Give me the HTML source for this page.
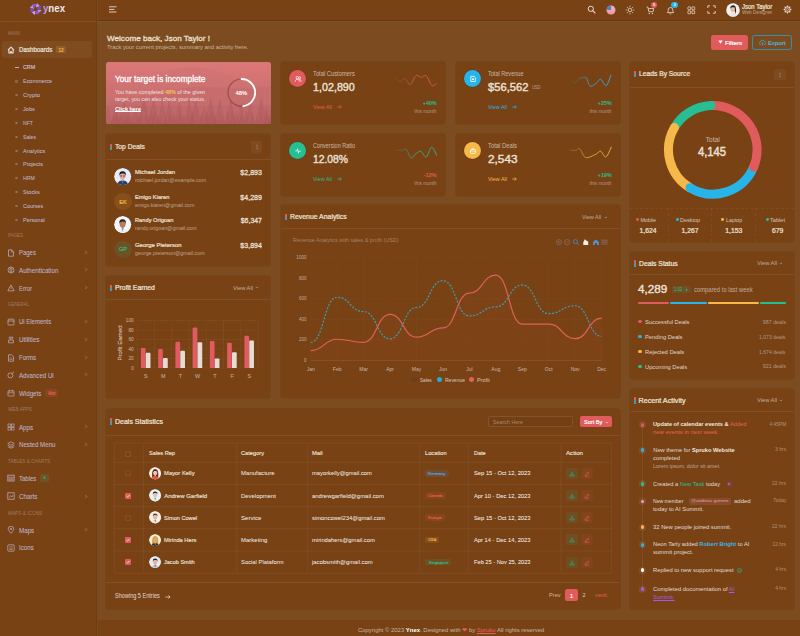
<!DOCTYPE html><html><head><meta charset="utf-8"><style>
html,body{margin:0;padding:0;}
body{width:800px;height:636px;overflow:hidden;position:relative;background:#7c4c20;font-family:"Liberation Sans",sans-serif;}
.t{position:absolute;white-space:nowrap;line-height:1;}
.b{position:absolute;}
</style></head><body>
<div class="b" style="left:0px;top:0px;width:800px;height:21px;background:#784215;"></div>
<div class="b" style="left:0px;top:20.4px;width:800px;height:0.8px;background:rgba(60,30,5,0.3);"></div>
<div class="b" style="left:0px;top:21.2px;width:800px;height:0.8px;background:rgba(255,255,255,0.035);"></div>
<div class="b" style="left:0px;top:0px;width:97.5px;height:636px;background:#784215;"></div>
<div class="b" style="left:96.4px;top:0px;width:0.8px;height:636px;background:rgba(60,30,5,0.16);"></div>
<div class="b" style="left:97.2px;top:0px;width:0.8px;height:636px;background:rgba(255,255,255,0.045);"></div>
<div class="b" style="left:98.3px;top:620px;width:702px;height:16px;background:#784215;"></div>
<div class="b" style="left:281.3px;top:62.2px;width:163.4px;height:61.6px;background:#784215;border-radius:2.5px;box-shadow:0 0 0 0.5px rgba(60,30,5,0.22);"></div>
<div class="b" style="left:456.3px;top:62.2px;width:163.4px;height:61.6px;background:#784215;border-radius:2.5px;box-shadow:0 0 0 0.5px rgba(60,30,5,0.22);"></div>
<div class="b" style="left:281.3px;top:134.2px;width:163.4px;height:61.6px;background:#784215;border-radius:2.5px;box-shadow:0 0 0 0.5px rgba(60,30,5,0.22);"></div>
<div class="b" style="left:456.3px;top:134.2px;width:163.4px;height:61.6px;background:#784215;border-radius:2.5px;box-shadow:0 0 0 0.5px rgba(60,30,5,0.22);"></div>
<div class="b" style="left:630.3px;top:62.2px;width:163.4px;height:179.6px;background:#784215;border-radius:2.5px;box-shadow:0 0 0 0.5px rgba(60,30,5,0.22);"></div>
<div class="b" style="left:106.3px;top:134.2px;width:163.9px;height:131.6px;background:#784215;border-radius:2.5px;box-shadow:0 0 0 0.5px rgba(60,30,5,0.22);"></div>
<div class="b" style="left:106.3px;top:276.2px;width:163.9px;height:121.6px;background:#784215;border-radius:2.5px;box-shadow:0 0 0 0.5px rgba(60,30,5,0.22);"></div>
<div class="b" style="left:281.3px;top:205.2px;width:338.4px;height:192.6px;background:#784215;border-radius:2.5px;box-shadow:0 0 0 0.5px rgba(60,30,5,0.22);"></div>
<div class="b" style="left:630.3px;top:252.2px;width:163.4px;height:126.6px;background:#784215;border-radius:2.5px;box-shadow:0 0 0 0.5px rgba(60,30,5,0.22);"></div>
<div class="b" style="left:630.3px;top:389.2px;width:163.4px;height:219.6px;background:#784215;border-radius:2.5px;box-shadow:0 0 0 0.5px rgba(60,30,5,0.22);"></div>
<div class="b" style="left:106.3px;top:409.2px;width:513.4px;height:199.6px;background:#784215;border-radius:2.5px;box-shadow:0 0 0 0.5px rgba(60,30,5,0.22);"></div>
<div class="b" style="left:0px;top:21.2px;width:96.4px;height:0.8px;background:rgba(255,255,255,0.075);"></div>
<svg class="b" style="left:28px;top:2px;" width="16" height="15" viewBox="0 0 16 15"><polygon points="9.28,7.38 13.81,8.18 10.71,11.09" fill="#b692f6"/><polygon points="8.62,8.41 11.26,12.18 7.01,12.05" fill="#8d5cf0"/><polygon points="7.42,8.68 6.62,13.21 3.71,10.11" fill="#c3a6fa"/><polygon points="6.39,8.02 2.62,10.66 2.75,6.41" fill="#7c4ce8"/><polygon points="6.12,6.82 1.59,6.02 4.69,3.11" fill="#b692f6"/><polygon points="6.78,5.79 4.14,2.02 8.39,2.15" fill="#8d5cf0"/><polygon points="7.98,5.52 8.78,0.99 11.69,4.09" fill="#c3a6fa"/><polygon points="9.01,6.18 12.78,3.54 12.65,7.79" fill="#7c4ce8"/></svg>
<div class="t" style="left:42.80px;top:3.00px;font-size:10.5px;color:#f1e8ea;font-weight:700;transform:scaleX(0.9192);transform-origin:left 0;"><span style="color:#b99bf5">y</span>nex</div>
<div class="t" style="left:8.20px;top:32.00px;font-size:4.9px;color:rgba(235,225,235,0.36);transform:scaleX(0.9714);transform-origin:left 0;">MAIN</div>
<div class="b" style="left:2.3px;top:41.3px;width:90.2px;height:17.2px;background:rgba(255,255,255,0.055);border-radius:3px;"></div>
<svg class="b" style="left:7px;top:46px;" width="8" height="8" viewBox="0 0 8 8"><path d="M1,4.2 L4,1.2 L7,4.2 M1.9,3.4 V7 H6.1 V3.4" fill="none" stroke="#f0e4dc" stroke-width="1.1" stroke-linejoin="round"/><rect x="3.2" y="5" width="1.6" height="2" fill="#f0e4dc"/></svg>
<div class="t" style="left:18.90px;top:47.00px;font-size:6.7px;color:#ece2d8;-webkit-text-stroke:0.228px #ece2d8;transform:scaleX(0.9217);transform-origin:left 0;">Dashboards</div>
<div class="b" style="left:56.2px;top:46.3px;width:9.6px;height:7.2px;background:rgba(245,184,73,0.16);border-radius:1.5px;"></div>
<div class="t" style="left:58.44px;top:49.00px;font-size:4.6px;color:#f5b849;font-weight:700;">12</div>
<div class="b" style="left:14.8px;top:66.69999999999999px;width:3.8px;height:0.8px;background:#bdb2c4;"></div>
<div class="t" style="left:22.80px;top:64.00px;font-size:6.0px;color:#cfc3d3;-webkit-text-stroke:0.15px #cfc3d3;transform:scaleX(0.8855);transform-origin:left 0;">CRM</div>
<div class="b" style="left:15.4px;top:80.4px;width:2.2px;height:2.2px;box-sizing:border-box;border:0.55px solid rgba(200,185,205,0.38);border-radius:50%;"></div>
<div class="t" style="left:22.80px;top:78.00px;font-size:6.0px;color:#bdb2c4;transform:scaleX(0.9091);transform-origin:left 0;-webkit-text-stroke:0.08px #bdb2c4;">Ecommerce</div>
<div class="b" style="left:15.4px;top:94.30000000000001px;width:2.2px;height:2.2px;box-sizing:border-box;border:0.55px solid rgba(200,185,205,0.38);border-radius:50%;"></div>
<div class="t" style="left:22.80px;top:92.00px;font-size:6.0px;color:#bdb2c4;transform:scaleX(0.9620);transform-origin:left 0;-webkit-text-stroke:0.08px #bdb2c4;">Crypto</div>
<div class="b" style="left:15.4px;top:108.10000000000001px;width:2.2px;height:2.2px;box-sizing:border-box;border:0.55px solid rgba(200,185,205,0.38);border-radius:50%;"></div>
<div class="t" style="left:22.80px;top:106.00px;font-size:6.0px;color:#bdb2c4;transform:scaleX(0.9310);transform-origin:left 0;-webkit-text-stroke:0.08px #bdb2c4;">Jobs</div>
<div class="b" style="left:15.4px;top:121.80000000000001px;width:2.2px;height:2.2px;box-sizing:border-box;border:0.55px solid rgba(200,185,205,0.38);border-radius:50%;"></div>
<div class="t" style="left:22.80px;top:120.00px;font-size:6.0px;color:#bdb2c4;transform:scaleX(0.8488);transform-origin:left 0;-webkit-text-stroke:0.08px #bdb2c4;">NFT</div>
<div class="b" style="left:15.4px;top:135.9px;width:2.2px;height:2.2px;box-sizing:border-box;border:0.55px solid rgba(200,185,205,0.38);border-radius:50%;"></div>
<div class="t" style="left:22.80px;top:134.00px;font-size:6.0px;color:#bdb2c4;transform:scaleX(0.8661);transform-origin:left 0;-webkit-text-stroke:0.08px #bdb2c4;">Sales</div>
<div class="b" style="left:15.4px;top:149.8px;width:2.2px;height:2.2px;box-sizing:border-box;border:0.55px solid rgba(200,185,205,0.38);border-radius:50%;"></div>
<div class="t" style="left:22.80px;top:148.00px;font-size:6.0px;color:#bdb2c4;transform:scaleX(0.9288);transform-origin:left 0;-webkit-text-stroke:0.08px #bdb2c4;">Analytics</div>
<div class="b" style="left:15.4px;top:163.3px;width:2.2px;height:2.2px;box-sizing:border-box;border:0.55px solid rgba(200,185,205,0.38);border-radius:50%;"></div>
<div class="t" style="left:22.80px;top:161.00px;font-size:6.0px;color:#bdb2c4;transform:scaleX(0.9227);transform-origin:left 0;-webkit-text-stroke:0.08px #bdb2c4;">Projects</div>
<div class="b" style="left:15.4px;top:177.20000000000002px;width:2.2px;height:2.2px;box-sizing:border-box;border:0.55px solid rgba(200,185,205,0.38);border-radius:50%;"></div>
<div class="t" style="left:22.80px;top:175.00px;font-size:6.0px;color:#bdb2c4;transform:scaleX(0.8635);transform-origin:left 0;-webkit-text-stroke:0.08px #bdb2c4;">HRM</div>
<div class="b" style="left:15.4px;top:191.20000000000002px;width:2.2px;height:2.2px;box-sizing:border-box;border:0.55px solid rgba(200,185,205,0.38);border-radius:50%;"></div>
<div class="t" style="left:22.80px;top:189.00px;font-size:6.0px;color:#bdb2c4;transform:scaleX(0.9330);transform-origin:left 0;-webkit-text-stroke:0.08px #bdb2c4;">Stocks</div>
<div class="b" style="left:15.4px;top:205.0px;width:2.2px;height:2.2px;box-sizing:border-box;border:0.55px solid rgba(200,185,205,0.38);border-radius:50%;"></div>
<div class="t" style="left:22.80px;top:203.00px;font-size:6.0px;color:#bdb2c4;transform:scaleX(0.8996);transform-origin:left 0;-webkit-text-stroke:0.08px #bdb2c4;">Courses</div>
<div class="b" style="left:15.4px;top:218.8px;width:2.2px;height:2.2px;box-sizing:border-box;border:0.55px solid rgba(200,185,205,0.38);border-radius:50%;"></div>
<div class="t" style="left:22.80px;top:217.00px;font-size:6.0px;color:#bdb2c4;transform:scaleX(0.9163);transform-origin:left 0;-webkit-text-stroke:0.08px #bdb2c4;">Personal</div>
<div class="t" style="left:8.20px;top:234.00px;font-size:4.9px;color:rgba(235,225,235,0.36);transform:scaleX(0.9140);transform-origin:left 0;">PAGES</div>
<div class="t" style="left:8.20px;top:303.00px;font-size:4.9px;color:rgba(235,225,235,0.36);transform:scaleX(0.9052);transform-origin:left 0;">GENERAL</div>
<div class="t" style="left:8.20px;top:408.00px;font-size:4.9px;color:rgba(235,225,235,0.36);transform:scaleX(0.9476);transform-origin:left 0;">WEB APPS</div>
<div class="t" style="left:8.20px;top:460.00px;font-size:4.9px;color:rgba(235,225,235,0.36);transform:scaleX(0.9488);transform-origin:left 0;">TABLES &amp; CHARTS</div>
<div class="t" style="left:8.20px;top:512.00px;font-size:4.9px;color:rgba(235,225,235,0.36);transform:scaleX(0.9690);transform-origin:left 0;">MAPS &amp; ICONS</div>
<svg class="b" style="left:6.9px;top:248.70000000000002px;" width="8" height="8" viewBox="0 0 8 8"><path d="M1.5,0.8 H4.6 L6.5,2.7 V7.2 H1.5 Z M4.4,0.8 V2.9 H6.5" fill="none" stroke="#b5a6b2" stroke-width="0.8" stroke-linejoin="round"/></svg>
<div class="t" style="left:18.90px;top:250.00px;font-size:6.4px;color:#bdb2c4;transform:scaleX(0.9313);transform-origin:left 0;-webkit-text-stroke:0.08px #bdb2c4;">Pages</div>
<svg class="b" style="left:83.5px;top:249.8px;" width="4" height="5" viewBox="0 0 4 5"><path d="M1.2,0.8 L2.8,2.5 L1.2,4.2" fill="none" stroke="#a8999f" stroke-width="0.6"/></svg>
<svg class="b" style="left:6.9px;top:266.29999999999995px;" width="8" height="8" viewBox="0 0 8 8"><circle cx="4" cy="4" r="3" fill="none" stroke="#b5a6b2" stroke-width="0.8"/><path d="M2,3 H6 M2.3,5.2 H5.7 M4,1 V7" stroke="#b5a6b2" stroke-width="0.7"/></svg>
<div class="t" style="left:18.90px;top:268.00px;font-size:6.4px;color:#bdb2c4;transform:scaleX(0.9713);transform-origin:left 0;-webkit-text-stroke:0.08px #bdb2c4;">Authentication</div>
<svg class="b" style="left:83.5px;top:267.4px;" width="4" height="5" viewBox="0 0 4 5"><path d="M1.2,0.8 L2.8,2.5 L1.2,4.2" fill="none" stroke="#a8999f" stroke-width="0.6"/></svg>
<svg class="b" style="left:6.9px;top:284.0px;" width="8" height="8" viewBox="0 0 8 8"><path d="M4,0.9 L7.2,6.8 H0.8 Z" fill="none" stroke="#b5a6b2" stroke-width="0.8" stroke-linejoin="round"/><path d="M4,3 V4.9" stroke="#b5a6b2" stroke-width="0.7"/></svg>
<div class="t" style="left:18.90px;top:286.00px;font-size:6.4px;color:#bdb2c4;transform:scaleX(0.9140);transform-origin:left 0;-webkit-text-stroke:0.08px #bdb2c4;">Error</div>
<svg class="b" style="left:83.5px;top:285.1px;" width="4" height="5" viewBox="0 0 4 5"><path d="M1.2,0.8 L2.8,2.5 L1.2,4.2" fill="none" stroke="#a8999f" stroke-width="0.6"/></svg>
<svg class="b" style="left:6.9px;top:317.79999999999995px;" width="8" height="8" viewBox="0 0 8 8"><rect x="1" y="1.2" width="6" height="5.8" rx="0.8" fill="none" stroke="#b5a6b2" stroke-width="0.8"/><path d="M1,3 H7" stroke="#b5a6b2" stroke-width="0.8"/></svg>
<div class="t" style="left:18.90px;top:319.00px;font-size:6.4px;color:#bdb2c4;transform:scaleX(0.9333);transform-origin:left 0;-webkit-text-stroke:0.08px #bdb2c4;">Ui Elements</div>
<svg class="b" style="left:83.5px;top:318.9px;" width="4" height="5" viewBox="0 0 4 5"><path d="M1.2,0.8 L2.8,2.5 L1.2,4.2" fill="none" stroke="#a8999f" stroke-width="0.6"/></svg>
<svg class="b" style="left:6.9px;top:335.79999999999995px;" width="8" height="8" viewBox="0 0 8 8"><path d="M2,1.2 H6 L5,3 H3 Z M1.6,4 H6.4 V6.8 H1.6 Z" fill="none" stroke="#b5a6b2" stroke-width="0.8"/></svg>
<div class="t" style="left:18.90px;top:337.00px;font-size:6.4px;color:#bdb2c4;-webkit-text-stroke:0.08px #bdb2c4;">Utilities</div>
<svg class="b" style="left:83.5px;top:336.9px;" width="4" height="5" viewBox="0 0 4 5"><path d="M1.2,0.8 L2.8,2.5 L1.2,4.2" fill="none" stroke="#a8999f" stroke-width="0.6"/></svg>
<svg class="b" style="left:6.9px;top:353.59999999999997px;" width="8" height="8" viewBox="0 0 8 8"><path d="M1.5,0.8 H4.6 L6.5,2.7 V7.2 H1.5 Z" fill="none" stroke="#b5a6b2" stroke-width="0.8"/><path d="M2.6,4 H5.4 M2.6,5.5 H5.4" stroke="#b5a6b2" stroke-width="0.6"/></svg>
<div class="t" style="left:18.90px;top:355.00px;font-size:6.4px;color:#bdb2c4;transform:scaleX(0.9431);transform-origin:left 0;-webkit-text-stroke:0.08px #bdb2c4;">Forms</div>
<svg class="b" style="left:83.5px;top:354.7px;" width="4" height="5" viewBox="0 0 4 5"><path d="M1.2,0.8 L2.8,2.5 L1.2,4.2" fill="none" stroke="#a8999f" stroke-width="0.6"/></svg>
<svg class="b" style="left:6.9px;top:371.2px;" width="8" height="8" viewBox="0 0 8 8"><circle cx="3.4" cy="4.4" r="2.5" fill="none" stroke="#b5a6b2" stroke-width="0.8"/><path d="M4.5,3.2 L7,0.8" stroke="#b5a6b2" stroke-width="0.8"/></svg>
<div class="t" style="left:18.90px;top:373.00px;font-size:6.4px;color:#bdb2c4;transform:scaleX(0.9562);transform-origin:left 0;-webkit-text-stroke:0.08px #bdb2c4;">Advanced Ui</div>
<svg class="b" style="left:83.5px;top:372.3px;" width="4" height="5" viewBox="0 0 4 5"><path d="M1.2,0.8 L2.8,2.5 L1.2,4.2" fill="none" stroke="#a8999f" stroke-width="0.6"/></svg>
<svg class="b" style="left:6.9px;top:389.09999999999997px;" width="8" height="8" viewBox="0 0 8 8"><rect x="1" y="1.8" width="6" height="5.2" rx="0.6" fill="none" stroke="#b5a6b2" stroke-width="0.8"/><path d="M2.5,0.8 V2.6 M5.5,0.8 V2.6 M1,3.8 H7" stroke="#b5a6b2" stroke-width="0.7"/></svg>
<div class="t" style="left:18.90px;top:391.00px;font-size:6.4px;color:#bdb2c4;transform:scaleX(0.9689);transform-origin:left 0;-webkit-text-stroke:0.08px #bdb2c4;">Widgets</div>
<svg class="b" style="left:6.9px;top:423.09999999999997px;" width="8" height="8" viewBox="0 0 8 8"><rect x="1" y="1" width="2.5" height="2.5" fill="none" stroke="#b5a6b2" stroke-width="0.7"/><rect x="4.5" y="1" width="2.5" height="2.5" fill="none" stroke="#b5a6b2" stroke-width="0.7"/><rect x="1" y="4.5" width="2.5" height="2.5" fill="none" stroke="#b5a6b2" stroke-width="0.7"/><rect x="4.5" y="4.5" width="2.5" height="2.5" fill="none" stroke="#b5a6b2" stroke-width="0.7"/></svg>
<div class="t" style="left:18.90px;top:425.00px;font-size:6.4px;color:#bdb2c4;transform:scaleX(0.9597);transform-origin:left 0;-webkit-text-stroke:0.08px #bdb2c4;">Apps</div>
<svg class="b" style="left:83.5px;top:424.2px;" width="4" height="5" viewBox="0 0 4 5"><path d="M1.2,0.8 L2.8,2.5 L1.2,4.2" fill="none" stroke="#a8999f" stroke-width="0.6"/></svg>
<svg class="b" style="left:6.9px;top:440.7px;" width="8" height="8" viewBox="0 0 8 8"><path d="M4,0.8 L7.2,2.5 L4,4.2 L0.8,2.5 Z M0.8,4.2 L4,5.9 L7.2,4.2 M0.8,5.7 L4,7.3 L7.2,5.7" fill="none" stroke="#b5a6b2" stroke-width="0.75" stroke-linejoin="round"/></svg>
<div class="t" style="left:18.90px;top:442.00px;font-size:6.4px;color:#bdb2c4;transform:scaleX(0.9588);transform-origin:left 0;-webkit-text-stroke:0.08px #bdb2c4;">Nested Menu</div>
<svg class="b" style="left:83.5px;top:441.8px;" width="4" height="5" viewBox="0 0 4 5"><path d="M1.2,0.8 L2.8,2.5 L1.2,4.2" fill="none" stroke="#a8999f" stroke-width="0.6"/></svg>
<svg class="b" style="left:6.9px;top:474.09999999999997px;" width="8" height="8" viewBox="0 0 8 8"><rect x="0.8" y="1.2" width="6.4" height="5.8" fill="none" stroke="#b5a6b2" stroke-width="0.8"/><path d="M0.8,3.2 H7.2 M0.8,5.1 H7.2 M3,3.2 V7 M5,3.2 V7" stroke="#b5a6b2" stroke-width="0.6"/></svg>
<div class="t" style="left:18.90px;top:476.00px;font-size:6.4px;color:#bdb2c4;transform:scaleX(0.9405);transform-origin:left 0;-webkit-text-stroke:0.08px #bdb2c4;">Tables</div>
<svg class="b" style="left:6.9px;top:492.4px;" width="8" height="8" viewBox="0 0 8 8"><rect x="0.8" y="0.8" width="6.4" height="6.4" fill="none" stroke="#b5a6b2" stroke-width="0.8"/><path d="M2,6 L3.6,3.6 L5,5 L6.2,2.8" fill="none" stroke="#b5a6b2" stroke-width="0.7"/></svg>
<div class="t" style="left:18.90px;top:494.00px;font-size:6.4px;color:#bdb2c4;transform:scaleX(0.9814);transform-origin:left 0;-webkit-text-stroke:0.08px #bdb2c4;">Charts</div>
<svg class="b" style="left:83.5px;top:493.5px;" width="4" height="5" viewBox="0 0 4 5"><path d="M1.2,0.8 L2.8,2.5 L1.2,4.2" fill="none" stroke="#a8999f" stroke-width="0.6"/></svg>
<svg class="b" style="left:6.9px;top:526.15px;" width="8" height="8" viewBox="0 0 8 8"><path d="M4,7.4 C2,5 1.2,3.8 1.2,3 A2.8,2.8 0 0 1 6.8,3 C6.8,3.8 6,5 4,7.4 Z" fill="none" stroke="#b5a6b2" stroke-width="0.8"/><circle cx="4" cy="3" r="1" fill="#b5a6b2"/></svg>
<div class="t" style="left:18.90px;top:528.00px;font-size:6.4px;color:#bdb2c4;transform:scaleX(0.9744);transform-origin:left 0;-webkit-text-stroke:0.08px #bdb2c4;">Maps</div>
<svg class="b" style="left:83.5px;top:527.25px;" width="4" height="5" viewBox="0 0 4 5"><path d="M1.2,0.8 L2.8,2.5 L1.2,4.2" fill="none" stroke="#a8999f" stroke-width="0.6"/></svg>
<svg class="b" style="left:6.9px;top:543.9px;" width="8" height="8" viewBox="0 0 8 8"><rect x="0.8" y="0.8" width="6.4" height="6.4" rx="0.8" fill="none" stroke="#b5a6b2" stroke-width="0.8"/><path d="M2.4,2.6 H3.6 M4.4,2.6 H5.6 M2.4,4.2 H5.6 M2.4,5.6 H5.6" stroke="#b5a6b2" stroke-width="0.7"/></svg>
<div class="t" style="left:18.90px;top:545.00px;font-size:6.4px;color:#bdb2c4;transform:scaleX(0.9642);transform-origin:left 0;-webkit-text-stroke:0.08px #bdb2c4;">Icons</div>
<div class="b" style="left:44.8px;top:388.8px;width:13.1px;height:7.8px;background:rgba(224,91,91,0.15);border-radius:1.5px;"></div>
<div class="t" style="left:47.60px;top:392.00px;font-size:4.5px;color:#f0605e;font-weight:700;transform:scaleX(0.9603);transform-origin:center 0;">Hot</div>
<div class="b" style="left:40.3px;top:473.8px;width:8.3px;height:7.8px;background:rgba(38,191,148,0.15);border-radius:1.5px;"></div>
<div class="t" style="left:43.25px;top:476.00px;font-size:4.3px;color:#26bf94;font-weight:700;">3</div>
<svg class="b" style="left:108px;top:5px;" width="10" height="9" viewBox="0 0 10 9"><path d="M1,1.8 H8.4 M1,4.4 H6.4 M1,7 H8.4" stroke="#e9d9cf" stroke-width="0.9"/></svg>
<svg class="b" style="left:587px;top:5px;" width="9" height="9" viewBox="0 0 9 9"><circle cx="3.8" cy="3.8" r="2.6" fill="none" stroke="#e9d9cf" stroke-width="1"/><path d="M5.7,5.7 L8,8" stroke="#e9d9cf" stroke-width="1.1" stroke-linecap="round"/></svg>
<svg class="b" style="left:605.5px;top:4.5px;" width="10" height="10" viewBox="0 0 10 10"><circle cx="5" cy="5" r="4.5" fill="#f2a7b4"/><path d="M5,5 L5,0.5 A4.5,4.5 0 0 0 0.5,5 Z" fill="#4f7fc4"/><path d="M0.9,7 H9.1 M2,8.6 H8" stroke="#e07a8e" stroke-width="0.4"/></svg>
<svg class="b" style="left:624.5px;top:4.5px;" width="10" height="10" viewBox="0 0 10 10"><circle cx="5" cy="5" r="1.8" fill="none" stroke="#e9d9cf" stroke-width="0.8"/><path d="M7.80,5.00 L9.30,5.00" stroke="#e9d9cf" stroke-width="0.7"/><path d="M6.98,6.98 L8.04,8.04" stroke="#e9d9cf" stroke-width="0.7"/><path d="M5.00,7.80 L5.00,9.30" stroke="#e9d9cf" stroke-width="0.7"/><path d="M3.02,6.98 L1.96,8.04" stroke="#e9d9cf" stroke-width="0.7"/><path d="M2.20,5.00 L0.70,5.00" stroke="#e9d9cf" stroke-width="0.7"/><path d="M3.02,3.02 L1.96,1.96" stroke="#e9d9cf" stroke-width="0.7"/><path d="M5.00,2.20 L5.00,0.70" stroke="#e9d9cf" stroke-width="0.7"/><path d="M6.98,3.02 L8.04,1.96" stroke="#e9d9cf" stroke-width="0.7"/></svg>
<svg class="b" style="left:645.5px;top:5.5px;" width="9" height="9" viewBox="0 0 9 9"><path d="M0.6,1 H1.8 L2.9,5.8 H7 L7.9,2.6 H2.3" fill="none" stroke="#e9d9cf" stroke-width="0.85" stroke-linejoin="round"/><circle cx="3.3" cy="7.6" r="0.7" fill="#e9d9cf"/><circle cx="6.5" cy="7.6" r="0.7" fill="#e9d9cf"/></svg>
<div class="b" style="left:650.9px;top:1.8px;width:6.2px;height:6.2px;background:#e05b5b;border-radius:3.1px;"></div>
<div class="t" style="left:652.89px;top:3.00px;font-size:4.0px;color:#fff;font-weight:700;">5</div>
<svg class="b" style="left:666px;top:5.5px;" width="9" height="9" viewBox="0 0 9 9"><path d="M1.4,6.6 C2.2,5.8 2.2,5 2.2,3.8 A2.3,2.3 0 0 1 6.8,3.8 C6.8,5 6.8,5.8 7.6,6.6 Z" fill="none" stroke="#e9d9cf" stroke-width="0.85" stroke-linejoin="round"/><path d="M3.6,7.6 A1,1 0 0 0 5.4,7.6" fill="none" stroke="#e9d9cf" stroke-width="0.7"/></svg>
<div class="b" style="left:671.4px;top:1.8px;width:6.2px;height:6.2px;background:#27b4e8;border-radius:3.1px;"></div>
<div class="t" style="left:673.39px;top:3.00px;font-size:4.0px;color:#fff;font-weight:700;">3</div>
<svg class="b" style="left:686.5px;top:5.5px;" width="9" height="9" viewBox="0 0 9 9"><rect x="0.9" y="0.9" width="2.8" height="2.8" rx="0.3" fill="none" stroke="#e9d9cf" stroke-width="0.75"/><rect x="0.9" y="4.9" width="2.8" height="2.8" rx="0.3" fill="none" stroke="#e9d9cf" stroke-width="0.75"/><rect x="4.9" y="0.9" width="2.8" height="2.8" rx="0.3" fill="none" stroke="#e9d9cf" stroke-width="0.75"/><rect x="4.9" y="4.9" width="2.8" height="2.8" rx="0.3" fill="none" stroke="#e9d9cf" stroke-width="0.75"/></svg>
<svg class="b" style="left:706.8px;top:5.2px;" width="9" height="9" viewBox="0 0 9 9"><path d="M0.8,3 V0.8 H3 M6,0.8 H8.2 V3 M8.2,6 V8.2 H6 M3,8.2 H0.8 V6" fill="none" stroke="#e9d9cf" stroke-width="0.9"/></svg>
<svg class="b" style="left:725.6px;top:2.6px;" width="14" height="14" viewBox="0 0 14 14"><defs><clipPath id="hav"><circle cx="7" cy="7" r="6.8"/></clipPath></defs><circle cx="7" cy="7" r="6.8" fill="#eef0f4"/><g clip-path="url(#hav)"><path d="M2.5,14 C3,10.5 4.5,9.8 7,9.8 C9.5,9.8 11,10.5 11.5,14 Z" fill="#e9e4e0"/><ellipse cx="7" cy="6.4" rx="2.3" ry="2.7" fill="#e9b9a0"/><path d="M4.3,6 C4.2,3 5.5,2.3 7,2.3 C8.8,2.3 9.9,3.3 9.7,6 C9,4.6 8,4.2 7,4.4 C6,4.2 5,4.6 4.3,6 Z" fill="#2a2522"/><path d="M8.8,4 C10.3,5 10.5,8 9.6,11 L8.9,8 Z" fill="#2a2522"/></g></svg>
<div class="t" style="left:742.40px;top:4.00px;font-size:6.5px;color:#efe4dc;-webkit-text-stroke:0.221px #efe4dc;transform:scaleX(0.9219);transform-origin:left 0;">Json Taylor</div>
<div class="t" style="left:742.40px;top:10.00px;font-size:5.2px;color:rgba(255,255,255,0.52);transform:scaleX(0.9192);transform-origin:left 0;">Web Designer</div>
<svg class="b" style="left:783px;top:5.2px;" width="9" height="9" viewBox="0 0 9 9"><rect x="3.9" y="0.5" width="1.2" height="1.8" rx="0.3" fill="#e9d9cf" transform="rotate(0 4.5 4.5)"/><rect x="3.9" y="0.5" width="1.2" height="1.8" rx="0.3" fill="#e9d9cf" transform="rotate(45 4.5 4.5)"/><rect x="3.9" y="0.5" width="1.2" height="1.8" rx="0.3" fill="#e9d9cf" transform="rotate(90 4.5 4.5)"/><rect x="3.9" y="0.5" width="1.2" height="1.8" rx="0.3" fill="#e9d9cf" transform="rotate(135 4.5 4.5)"/><rect x="3.9" y="0.5" width="1.2" height="1.8" rx="0.3" fill="#e9d9cf" transform="rotate(180 4.5 4.5)"/><rect x="3.9" y="0.5" width="1.2" height="1.8" rx="0.3" fill="#e9d9cf" transform="rotate(225 4.5 4.5)"/><rect x="3.9" y="0.5" width="1.2" height="1.8" rx="0.3" fill="#e9d9cf" transform="rotate(270 4.5 4.5)"/><rect x="3.9" y="0.5" width="1.2" height="1.8" rx="0.3" fill="#e9d9cf" transform="rotate(315 4.5 4.5)"/><circle cx="4.5" cy="4.5" r="2.7" fill="none" stroke="#e9d9cf" stroke-width="0.9"/><circle cx="4.5" cy="4.5" r="1.1" fill="none" stroke="#e9d9cf" stroke-width="0.7"/></svg>
<div class="t" style="left:106.60px;top:35.00px;font-size:8.0px;color:#ece2d8;-webkit-text-stroke:0.272px #ece2d8;transform:scaleX(1.0145);transform-origin:left 0;">Welcome back, Json Taylor !</div>
<div class="t" style="left:106.60px;top:44.00px;font-size:6.2px;color:rgba(255,255,255,0.58);transform:scaleX(0.9369);transform-origin:left 0;">Track your current projects, summary and activity here.</div>
<div class="b" style="left:710.7px;top:34.5px;width:37.5px;height:15.4px;background:#e05b5b;border-radius:2.5px;"></div>
<svg class="b" style="left:717.5px;top:39.8px;" width="5" height="5" viewBox="0 0 5 5"><path d="M0.3,0.5 H4.7 L2.5,3.8 Z" fill="#fff"/></svg>
<div class="t" style="left:725.00px;top:40.00px;font-size:6.0px;color:#fff;-webkit-text-stroke:0.204px #fff;transform:scaleX(1.0592);transform-origin:left 0;">Filters</div>
<div class="b" style="left:752.3px;top:34.5px;width:39.4px;height:15.4px;background:transparent;border-radius:2.5px;box-sizing:border-box;border:0.8px solid #3a8fa8;"></div>
<svg class="b" style="left:758.5px;top:38.6px;" width="7" height="7" viewBox="0 0 7 7"><path d="M2,5.6 H1.6 A1.3,1.3 0 0 1 1.4,3 A2.2,2.2 0 0 1 5.6,2.6 A1.5,1.5 0 0 1 5.6,5.6 H5" fill="none" stroke="#3fb3d6" stroke-width="0.7"/><path d="M3.5,6.4 V3.8 M2.6,4.7 L3.5,3.8 L4.4,4.7" fill="none" stroke="#3fb3d6" stroke-width="0.7"/></svg>
<div class="t" style="left:768.00px;top:40.00px;font-size:6.0px;color:#45bde3;-webkit-text-stroke:0.15px #45bde3;transform:scaleX(1.0149);transform-origin:left 0;">Export</div>
<svg class="b" style="left:106px;top:62px;" width="165" height="62" viewBox="0 0 165 62"><defs><clipPath id="pc"><rect x="0" y="0" width="165" height="62" rx="2.5"/></clipPath><linearGradient id="pg" x1="0" y1="0" x2="0" y2="1"><stop offset="0" stop-color="#dc7777"/><stop offset="0.45" stop-color="#cf7272"/><stop offset="1" stop-color="#bf6b6b"/></linearGradient></defs><g clip-path="url(#pc)"><rect width="165" height="62" fill="url(#pg)"/><path d="M0,24 C20,16 40,18 60,10 C85,0 110,8 130,16 C145,22 155,20 165,16 V62 H0 Z" fill="#cc7070" opacity="0.35"/><path d="M0,40 C25,32 45,38 70,28 C95,20 125,30 165,24 V62 H0 Z" fill="#c26a6b" opacity="0.5"/><path d="M-2.0,62.0 L2.2,43.3 L6.4,62.0 Z" fill="rgba(170,80,82,0.35)"/><path d="M4.9,62.0 L9.5,41.6 L14.1,62.0 Z" fill="rgba(170,80,82,0.35)"/><path d="M12.7,62.0 L18.1,38.3 L23.4,62.0 Z" fill="rgba(170,80,82,0.35)"/><path d="M19.0,62.0 L22.5,46.2 L26.1,62.0 Z" fill="rgba(170,80,82,0.35)"/><path d="M25.8,62.0 L30.1,43.0 L34.4,62.0 Z" fill="rgba(170,80,82,0.35)"/><path d="M31.5,62.0 L38.0,33.5 L44.4,62.0 Z" fill="rgba(170,80,82,0.35)"/><path d="M41.6,62.0 L47.6,35.5 L53.5,62.0 Z" fill="rgba(170,80,82,0.35)"/><path d="M51.0,62.0 L56.4,38.1 L61.8,62.0 Z" fill="rgba(170,80,82,0.35)"/><path d="M57.7,62.0 L63.1,38.1 L68.5,62.0 Z" fill="rgba(170,80,82,0.35)"/><path d="M68.3,62.0 L73.3,39.6 L78.4,62.0 Z" fill="rgba(170,80,82,0.35)"/><path d="M77.6,62.0 L83.1,37.7 L88.5,62.0 Z" fill="rgba(170,80,82,0.35)"/><path d="M84.0,62.0 L89.7,36.5 L95.4,62.0 Z" fill="rgba(170,80,82,0.35)"/><path d="M93.6,62.0 L98.0,42.5 L102.4,62.0 Z" fill="rgba(170,80,82,0.35)"/><path d="M98.6,62.0 L104.6,35.1 L110.7,62.0 Z" fill="rgba(170,80,82,0.35)"/><path d="M108.1,62.0 L113.7,37.1 L119.3,62.0 Z" fill="rgba(170,80,82,0.35)"/><path d="M119.2,62.0 L124.8,37.1 L130.4,62.0 Z" fill="rgba(170,80,82,0.35)"/><path d="M130.5,62.0 L135.2,41.3 L139.9,62.0 Z" fill="rgba(170,80,82,0.35)"/><path d="M139.4,62.0 L144.2,40.6 L149.0,62.0 Z" fill="rgba(170,80,82,0.35)"/><path d="M149.2,62.0 L155.3,35.0 L161.4,62.0 Z" fill="rgba(170,80,82,0.35)"/><path d="M156.5,62.0 L160.4,44.6 L164.3,62.0 Z" fill="rgba(170,80,82,0.35)"/><path d="M161.6,62.0 L168.0,33.8 L174.3,62.0 Z" fill="rgba(170,80,82,0.35)"/><path d="M5.0,62.0 L7.4,51.3 L9.8,62.0 Z" fill="rgba(160,75,78,0.35)"/><path d="M8.0,62.0 L10.9,49.0 L13.8,62.0 Z" fill="rgba(160,75,78,0.35)"/><path d="M11.4,62.0 L14.2,49.8 L16.9,62.0 Z" fill="rgba(160,75,78,0.35)"/><path d="M15.4,62.0 L17.4,53.2 L19.4,62.0 Z" fill="rgba(160,75,78,0.35)"/><path d="M18.6,62.0 L20.6,53.3 L22.5,62.0 Z" fill="rgba(160,75,78,0.35)"/><path d="M21.6,62.0 L23.6,53.1 L25.6,62.0 Z" fill="rgba(160,75,78,0.35)"/><path d="M24.0,62.0 L26.5,50.6 L29.1,62.0 Z" fill="rgba(160,75,78,0.35)"/><path d="M28.9,62.0 L31.0,52.7 L33.1,62.0 Z" fill="rgba(160,75,78,0.35)"/><path d="M31.7,62.0 L34.5,49.2 L37.4,62.0 Z" fill="rgba(160,75,78,0.35)"/><path d="M37.6,62.0 L40.4,49.6 L43.2,62.0 Z" fill="rgba(160,75,78,0.35)"/><path d="M41.8,62.0 L45.2,46.8 L48.6,62.0 Z" fill="rgba(160,75,78,0.35)"/><path d="M45.7,62.0 L48.9,47.6 L52.2,62.0 Z" fill="rgba(160,75,78,0.35)"/><path d="M50.2,62.0 L52.3,52.6 L54.4,62.0 Z" fill="rgba(160,75,78,0.35)"/><path d="M52.8,62.0 L55.1,51.4 L57.5,62.0 Z" fill="rgba(160,75,78,0.35)"/><path d="M57.3,62.0 L59.5,52.3 L61.7,62.0 Z" fill="rgba(160,75,78,0.35)"/><path d="M61.0,62.0 L63.9,49.1 L66.8,62.0 Z" fill="rgba(160,75,78,0.35)"/><path d="M65.2,62.0 L68.0,49.8 L70.7,62.0 Z" fill="rgba(160,75,78,0.35)"/><path d="M68.4,62.0 L70.4,53.2 L72.4,62.0 Z" fill="rgba(160,75,78,0.35)"/><path d="M71.0,62.0 L74.0,48.8 L77.0,62.0 Z" fill="rgba(160,75,78,0.35)"/><path d="M75.6,62.0 L77.9,51.4 L80.3,62.0 Z" fill="rgba(160,75,78,0.35)"/><path d="M79.6,62.0 L82.2,50.4 L84.8,62.0 Z" fill="rgba(160,75,78,0.35)"/><path d="M83.2,62.0 L86.4,48.0 L89.5,62.0 Z" fill="rgba(160,75,78,0.35)"/><path d="M88.9,62.0 L91.1,51.9 L93.4,62.0 Z" fill="rgba(160,75,78,0.35)"/><path d="M92.7,62.0 L95.4,49.9 L98.1,62.0 Z" fill="rgba(160,75,78,0.35)"/><path d="M98.0,62.0 L101.1,48.5 L104.1,62.0 Z" fill="rgba(160,75,78,0.35)"/><path d="M102.3,62.0 L105.7,46.7 L109.1,62.0 Z" fill="rgba(160,75,78,0.35)"/><path d="M106.4,62.0 L109.0,50.7 L111.5,62.0 Z" fill="rgba(160,75,78,0.35)"/><path d="M111.2,62.0 L113.3,52.5 L115.4,62.0 Z" fill="rgba(160,75,78,0.35)"/><path d="M114.6,62.0 L116.5,53.3 L118.5,62.0 Z" fill="rgba(160,75,78,0.35)"/><path d="M118.0,62.0 L121.1,48.2 L124.2,62.0 Z" fill="rgba(160,75,78,0.35)"/><path d="M123.2,62.0 L126.5,47.5 L129.7,62.0 Z" fill="rgba(160,75,78,0.35)"/><path d="M127.8,62.0 L130.8,48.7 L133.8,62.0 Z" fill="rgba(160,75,78,0.35)"/><path d="M132.9,62.0 L135.7,49.5 L138.5,62.0 Z" fill="rgba(160,75,78,0.35)"/><path d="M137.2,62.0 L140.4,47.7 L143.7,62.0 Z" fill="rgba(160,75,78,0.35)"/><path d="M143.8,62.0 L146.4,50.3 L149.1,62.0 Z" fill="rgba(160,75,78,0.35)"/><path d="M148.5,62.0 L150.4,53.2 L152.4,62.0 Z" fill="rgba(160,75,78,0.35)"/><path d="M152.0,62.0 L154.9,49.1 L157.9,62.0 Z" fill="rgba(160,75,78,0.35)"/><path d="M158.1,62.0 L161.3,47.8 L164.5,62.0 Z" fill="rgba(160,75,78,0.35)"/><path d="M162.5,62.0 L165.0,50.9 L167.5,62.0 Z" fill="rgba(160,75,78,0.35)"/><rect x="0" y="44" width="165" height="18" fill="#b66466" opacity="0.35"/></g></svg>
<div class="t" style="left:114.90px;top:75.00px;font-size:8.4px;color:#fff;-webkit-text-stroke:0.286px #fff;transform:scaleX(0.9843);transform-origin:left 0;">Your target is incomplete</div>
<div class="t" style="left:114.90px;top:90.00px;font-size:5.7px;color:rgba(255,255,255,0.82);transform:scaleX(0.9456);transform-origin:left 0;">You have completed <b style="color:#f5c451">48%</b> of the given</div>
<div class="t" style="left:114.90px;top:97.00px;font-size:5.7px;color:rgba(255,255,255,0.82);transform:scaleX(0.9304);transform-origin:left 0;">target, you can also check your status.</div>
<div class="t" style="left:114.90px;top:107.00px;font-size:5.8px;color:#fff;font-weight:700;transform:scaleX(0.9378);transform-origin:left 0;text-decoration:underline;text-decoration-thickness:0.4px;text-underline-offset:0.4px;">Click here</div>
<svg class="b" style="left:227.3px;top:77.5px;" width="29.2" height="29.2" viewBox="0 0 29.2 29.2"><circle cx="14.6" cy="14.6" r="13.6" fill="none" stroke="rgba(120,50,45,0.55)" stroke-width="1.2"/><path d="M14.6,1.0 A13.6,13.6 0 0 1 16.30,28.09" fill="none" stroke="#fff" stroke-width="1.9" stroke-linecap="round"/></svg>
<div class="t" style="left:236.30px;top:91.00px;font-size:5.4px;color:#fff;font-weight:700;transform:scaleX(1.0825);transform-origin:center 0;">48%</div>
<div class="b" style="left:288.9px;top:69.95px;width:17.2px;height:17.2px;border-radius:50%;background:#e05b5b;box-shadow:0 0 0 0.8px rgba(0,0,0,0.1);"></div>
<svg class="b" style="left:293.5px;top:74.55px;" width="8" height="8" viewBox="0 0 8 8"><circle cx="3.3" cy="2.6" r="1.2" fill="none" stroke="#fff" stroke-width="0.75"/><circle cx="5.6" cy="2.9" r="1" fill="none" stroke="#fff" stroke-width="0.65"/><path d="M1.3,6.3 C1.3,4.8 2.3,4.3 3.3,4.3 C4.3,4.3 5.3,4.8 5.3,6.3 M5.6,4.5 C6.4,4.5 7.1,5 7.1,6.2" fill="none" stroke="#fff" stroke-width="0.75" stroke-linecap="round"/></svg>
<div class="t" style="left:313.00px;top:71.00px;font-size:6.3px;color:rgba(255,255,255,0.62);transform:scaleX(0.9184);transform-origin:left 0;">Total Customers</div>
<div class="t" style="left:313.00px;top:82.00px;font-size:11.0px;color:#ece2d8;-webkit-text-stroke:0.374px #ece2d8;transform:scaleX(0.9762);transform-origin:left 0;">1,02,890</div>
<div class="t" style="left:313.00px;top:104.00px;font-size:6.2px;color:#e05b5b;transform:scaleX(0.8797);transform-origin:left 0;">View All</div>
<svg class="b" style="left:336.8px;top:105.0px;" width="5" height="4" viewBox="0 0 5 4"><path d="M0.3,2 H4.2 M2.6,0.5 L4.3,2 L2.6,3.5" fill="none" stroke="#e05b5b" stroke-width="0.75"/></svg>
<div class="t" style="left:422.74px;top:101.00px;font-size:5.4px;color:#26bf94;font-weight:700;">+40%</div>
<div class="t" style="left:413.17px;top:109.00px;font-size:5.1px;color:rgba(255,255,255,0.45);transform:scaleX(0.9351);transform-origin:right 0;">this month</div>
<svg class="b" style="left:390px;top:68px;" width="50" height="22" viewBox="0 0 50 22"><defs><linearGradient id="sg28162" x1="0" y1="0" x2="1" y2="0"><stop offset="0" stop-color="#7a5a8a" stop-opacity="0.35"/><stop offset="0.45" stop-color="#e05b5b" stop-opacity="0.85"/><stop offset="1" stop-color="#e05b5b"/></linearGradient></defs><path d="M5.30,9.40 L5.69,9.76 L6.21,10.29 L6.84,10.92 L7.52,11.59 L8.25,12.24 L8.98,12.81 L9.67,13.21 L10.30,13.40 L10.87,13.29 L11.41,12.90 L11.94,12.34 L12.46,11.71 L12.99,11.09 L13.53,10.58 L14.10,10.29 L14.70,10.30 L15.34,10.74 L16.02,11.58 L16.71,12.65 L17.43,13.83 L18.15,14.95 L18.87,15.89 L19.59,16.49 L20.30,16.60 L21.00,16.12 L21.71,15.15 L22.41,13.83 L23.12,12.33 L23.82,10.78 L24.52,9.36 L25.21,8.22 L25.90,7.50 L26.58,7.24 L27.26,7.28 L27.94,7.56 L28.61,7.98 L29.28,8.46 L29.94,8.91 L30.60,9.25 L31.25,9.40 L31.89,9.29 L32.51,8.98 L33.12,8.56 L33.73,8.11 L34.34,7.73 L34.96,7.49 L35.60,7.48 L36.25,7.80 L36.93,8.55 L37.64,9.71 L38.36,11.13 L39.09,12.69 L39.82,14.24 L40.54,15.65 L41.23,16.78 L41.90,17.50 L42.57,17.78 L43.25,17.74 L43.94,17.45 L44.60,17.01 L45.22,16.49 L45.78,15.97 L46.24,15.55 L46.60,15.30" fill="none" stroke="url(#sg28162)" stroke-width="0.9" stroke-linejoin="round" stroke-linecap="round"/></svg>
<div class="b" style="left:463.9px;top:69.95px;width:17.2px;height:17.2px;border-radius:50%;background:#27b4e8;box-shadow:0 0 0 0.8px rgba(0,0,0,0.1);"></div>
<svg class="b" style="left:468.5px;top:74.55px;" width="8" height="8" viewBox="0 0 8 8"><path d="M1.8,1.4 H5 L6.3,2.6 V6.6 H1.8 Z" fill="none" stroke="#fff" stroke-width="0.8" stroke-linejoin="round"/><circle cx="4" cy="4.2" r="1" fill="#fff"/></svg>
<div class="t" style="left:488.00px;top:71.00px;font-size:6.3px;color:rgba(255,255,255,0.62);transform:scaleX(0.8814);transform-origin:left 0;">Total Revenue</div>
<div class="t" style="left:488.00px;top:82.00px;font-size:11.0px;color:#ece2d8;-webkit-text-stroke:0.374px #ece2d8;transform:scaleX(1.0185);transform-origin:left 0;">$56,562</div>
<div class="t" style="left:531.70px;top:86.00px;font-size:4.8px;color:rgba(255,255,255,0.5);transform:scaleX(0.8288);transform-origin:left 0;">USD</div>
<div class="t" style="left:488.00px;top:104.00px;font-size:6.2px;color:#27b4e8;transform:scaleX(0.8797);transform-origin:left 0;">View All</div>
<svg class="b" style="left:511.8px;top:105.0px;" width="5" height="4" viewBox="0 0 5 4"><path d="M0.3,2 H4.2 M2.6,0.5 L4.3,2 L2.6,3.5" fill="none" stroke="#27b4e8" stroke-width="0.75"/></svg>
<div class="t" style="left:597.74px;top:101.00px;font-size:5.4px;color:#26bf94;font-weight:700;">+25%</div>
<div class="t" style="left:588.17px;top:109.00px;font-size:5.1px;color:rgba(255,255,255,0.45);transform:scaleX(0.9351);transform-origin:right 0;">this month</div>
<svg class="b" style="left:565px;top:68px;" width="50" height="22" viewBox="0 0 50 22"><defs><linearGradient id="sg45662" x1="0" y1="0" x2="1" y2="0"><stop offset="0" stop-color="#2e7a5a" stop-opacity="0.35"/><stop offset="0.45" stop-color="#27b4e8" stop-opacity="0.85"/><stop offset="1" stop-color="#27b4e8"/></linearGradient></defs><path d="M5.00,10.30 L5.36,10.70 L5.84,11.29 L6.42,12.00 L7.06,12.76 L7.73,13.48 L8.41,14.09 L9.08,14.53 L9.70,14.70 L10.28,14.57 L10.86,14.20 L11.44,13.66 L12.01,13.00 L12.59,12.30 L13.18,11.62 L13.78,11.03 L14.40,10.60 L15.06,10.30 L15.76,10.05 L16.49,9.85 L17.22,9.69 L17.94,9.57 L18.60,9.48 L19.20,9.43 L19.70,9.40 L20.09,9.36 L20.37,9.32 L20.58,9.28 L20.75,9.29 L20.91,9.36 L21.08,9.54 L21.30,9.84 L21.60,10.30 L21.96,11.02 L22.35,12.01 L22.76,13.19 L23.20,14.43 L23.67,15.65 L24.17,16.73 L24.72,17.59 L25.30,18.10 L25.95,18.27 L26.67,18.17 L27.44,17.88 L28.23,17.44 L29.04,16.91 L29.82,16.34 L30.57,15.78 L31.25,15.30 L31.86,14.78 L32.42,14.13 L32.94,13.42 L33.44,12.71 L33.94,12.07 L34.46,11.57 L35.00,11.27 L35.60,11.25 L36.25,11.65 L36.94,12.48 L37.67,13.57 L38.41,14.77 L39.15,15.92 L39.88,16.86 L40.58,17.44 L41.25,17.50 L41.91,16.93 L42.59,15.85 L43.27,14.40 L43.93,12.74 L44.54,11.04 L45.09,9.44 L45.55,8.11 L45.90,7.20" fill="none" stroke="url(#sg45662)" stroke-width="0.9" stroke-linejoin="round" stroke-linecap="round"/></svg>
<div class="b" style="left:288.9px;top:141.95px;width:17.2px;height:17.2px;border-radius:50%;background:#26bf94;box-shadow:0 0 0 0.8px rgba(0,0,0,0.1);"></div>
<svg class="b" style="left:293.5px;top:146.55px;" width="8" height="8" viewBox="0 0 8 8"><path d="M3.6,1.6 V3.8 H1.4 M4.4,6.4 V4.2 H6.6" fill="none" stroke="#fff" stroke-width="0.85"/></svg>
<div class="t" style="left:313.00px;top:143.00px;font-size:6.3px;color:rgba(255,255,255,0.62);transform:scaleX(0.8691);transform-origin:left 0;">Conversion Ratio</div>
<div class="t" style="left:313.00px;top:154.00px;font-size:11.0px;color:#ece2d8;-webkit-text-stroke:0.374px #ece2d8;transform:scaleX(0.9381);transform-origin:left 0;">12.08%</div>
<div class="t" style="left:313.00px;top:176.00px;font-size:6.2px;color:#26bf94;transform:scaleX(0.8797);transform-origin:left 0;">View All</div>
<svg class="b" style="left:336.8px;top:177.0px;" width="5" height="4" viewBox="0 0 5 4"><path d="M0.3,2 H4.2 M2.6,0.5 L4.3,2 L2.6,3.5" fill="none" stroke="#26bf94" stroke-width="0.75"/></svg>
<div class="t" style="left:424.09px;top:173.00px;font-size:5.4px;color:#e05b5b;font-weight:700;">-12%</div>
<div class="t" style="left:413.17px;top:181.00px;font-size:5.1px;color:rgba(255,255,255,0.45);transform:scaleX(0.9351);transform-origin:right 0;">this month</div>
<svg class="b" style="left:390px;top:140px;" width="50" height="22" viewBox="0 0 50 22"><defs><linearGradient id="sg281134" x1="0" y1="0" x2="1" y2="0"><stop offset="0" stop-color="#4a7a6a" stop-opacity="0.35"/><stop offset="0.45" stop-color="#26bf94" stop-opacity="0.85"/><stop offset="1" stop-color="#26bf94"/></linearGradient></defs><path d="M5.30,10.30 L5.81,10.31 L6.50,10.33 L7.33,10.35 L8.24,10.38 L9.17,10.39 L10.08,10.38 L10.91,10.36 L11.60,10.30 L12.17,10.19 L12.69,10.04 L13.15,9.85 L13.57,9.64 L13.96,9.45 L14.32,9.28 L14.67,9.16 L15.00,9.10 L15.29,9.06 L15.53,9.02 L15.73,8.98 L15.91,8.99 L16.10,9.06 L16.31,9.24 L16.57,9.54 L16.90,10.00 L17.29,10.72 L17.74,11.73 L18.22,12.93 L18.73,14.19 L19.26,15.41 L19.80,16.50 L20.35,17.33 L20.90,17.80 L21.45,17.88 L22.02,17.66 L22.60,17.22 L23.19,16.62 L23.78,15.93 L24.39,15.23 L24.99,14.60 L25.60,14.10 L26.21,13.64 L26.81,13.13 L27.42,12.60 L28.04,12.09 L28.66,11.66 L29.30,11.34 L29.94,11.19 L30.60,11.25 L31.28,11.65 L31.97,12.42 L32.68,13.42 L33.40,14.50 L34.12,15.53 L34.84,16.37 L35.55,16.87 L36.25,16.90 L36.94,16.30 L37.62,15.14 L38.29,13.60 L38.97,11.90 L39.63,10.21 L40.29,8.73 L40.95,7.67 L41.60,7.20 L42.28,7.42 L42.99,8.16 L43.72,9.29 L44.43,10.64 L45.11,12.07 L45.71,13.43 L46.22,14.55 L46.60,15.30" fill="none" stroke="url(#sg281134)" stroke-width="0.9" stroke-linejoin="round" stroke-linecap="round"/></svg>
<div class="b" style="left:463.9px;top:141.95px;width:17.2px;height:17.2px;border-radius:50%;background:#f5b849;box-shadow:0 0 0 0.8px rgba(0,0,0,0.1);"></div>
<svg class="b" style="left:468.5px;top:146.55px;" width="8" height="8" viewBox="0 0 8 8"><rect x="1.4" y="2.6" width="5.2" height="3.8" rx="0.8" fill="none" stroke="#fff" stroke-width="0.8"/><path d="M3,2.6 V1.6 H5 V2.6 M1.4,4.2 H6.6" fill="none" stroke="#fff" stroke-width="0.6"/></svg>
<div class="t" style="left:488.00px;top:143.00px;font-size:6.3px;color:rgba(255,255,255,0.62);transform:scaleX(0.9305);transform-origin:left 0;">Total Deals</div>
<div class="t" style="left:488.00px;top:154.00px;font-size:11.0px;color:#ece2d8;-webkit-text-stroke:0.374px #ece2d8;transform:scaleX(1.0717);transform-origin:left 0;">2,543</div>
<div class="t" style="left:488.00px;top:176.00px;font-size:6.2px;color:#f5b849;transform:scaleX(0.8797);transform-origin:left 0;">View All</div>
<svg class="b" style="left:511.8px;top:177.0px;" width="5" height="4" viewBox="0 0 5 4"><path d="M0.3,2 H4.2 M2.6,0.5 L4.3,2 L2.6,3.5" fill="none" stroke="#f5b849" stroke-width="0.75"/></svg>
<div class="t" style="left:597.74px;top:173.00px;font-size:5.4px;color:#26bf94;font-weight:700;">+19%</div>
<div class="t" style="left:588.17px;top:181.00px;font-size:5.1px;color:rgba(255,255,255,0.45);transform:scaleX(0.9351);transform-origin:right 0;">this month</div>
<svg class="b" style="left:565px;top:140px;" width="50" height="22" viewBox="0 0 50 22"><defs><linearGradient id="sg456134" x1="0" y1="0" x2="1" y2="0"><stop offset="0" stop-color="#b08850" stop-opacity="0.35"/><stop offset="0.45" stop-color="#f5b849" stop-opacity="0.85"/><stop offset="1" stop-color="#f5b849"/></linearGradient></defs><path d="M4.70,10.30 L5.19,10.31 L5.87,10.34 L6.68,10.37 L7.56,10.40 L8.48,10.41 L9.37,10.41 L10.20,10.37 L10.90,10.30 L11.48,10.11 L11.97,9.78 L12.41,9.38 L12.82,8.98 L13.23,8.64 L13.66,8.45 L14.14,8.46 L14.70,8.75 L15.31,9.43 L15.93,10.49 L16.58,11.80 L17.26,13.22 L17.99,14.63 L18.79,15.90 L19.65,16.90 L20.60,17.50 L21.69,17.68 L22.93,17.56 L24.27,17.21 L25.66,16.69 L27.04,16.09 L28.36,15.46 L29.56,14.87 L30.60,14.40 L31.46,13.95 L32.19,13.41 L32.83,12.84 L33.39,12.28 L33.92,11.79 L34.45,11.42 L34.99,11.22 L35.60,11.25 L36.25,11.64 L36.90,12.40 L37.56,13.40 L38.23,14.48 L38.90,15.52 L39.56,16.36 L40.23,16.87 L40.90,16.90 L41.60,16.36 L42.36,15.33 L43.14,13.96 L43.91,12.40 L44.63,10.80 L45.29,9.30 L45.84,8.05 L46.25,7.20" fill="none" stroke="url(#sg456134)" stroke-width="0.9" stroke-linejoin="round" stroke-linecap="round"/></svg>
<div class="b" style="left:634.0px;top:70.9px;width:1.6px;height:6.6px;background:linear-gradient(#e0605e 0 50%, #3d9fb5 50% 100%);border-radius:0.6px;"></div>
<div class="t" style="left:638.50px;top:70.00px;font-size:7.2px;color:#ece2d8;-webkit-text-stroke:0.245px #ece2d8;transform:scaleX(0.9337);transform-origin:left 0;">Leads By Source</div>
<div class="b" style="left:630px;top:87.2px;width:164px;height:0.8px;background:rgba(255,255,255,0.075);"></div>
<div class="b" style="left:774.3px;top:68.9px;width:11.4px;height:11.1px;background:rgba(255,255,255,0.05);border-radius:2px;"></div>
<svg class="b" style="left:779px;top:71.5px;" width="2" height="6" viewBox="0 0 2 6"><circle cx="1" cy="1.2" r="0.45" fill="#d8c8bc"/><circle cx="1" cy="3" r="0.45" fill="#d8c8bc"/><circle cx="1" cy="4.8" r="0.45" fill="#d8c8bc"/></svg>
<svg class="b" style="left:662.7px;top:99.8px;" width="99.6" height="99.6" viewBox="0 0 99.6 99.6"><path d="M47.94,5.54 A44.3,44.3 0 0 1 90.64,66.97" fill="none" stroke="#e05b5b" stroke-width="9.0"/><path d="M90.64,66.97 A44.3,44.3 0 0 1 27.05,87.81" fill="none" stroke="#27b4e8" stroke-width="9.0"/><path d="M27.05,87.81 A44.3,44.3 0 0 1 11.47,27.58" fill="none" stroke="#f5b849" stroke-width="9.0"/><path d="M11.47,27.58 A44.3,44.3 0 0 1 47.94,5.54" fill="none" stroke="#26bf94" stroke-width="9.0"/><circle cx="90.64" cy="66.97" r="4.5" fill="#e05b5b"/><circle cx="27.05" cy="87.81" r="4.5" fill="#27b4e8"/><circle cx="11.47" cy="27.58" r="4.5" fill="#f5b849"/><circle cx="47.94" cy="5.54" r="4.5" fill="#26bf94"/></svg>
<div class="t" style="left:705.85px;top:137.00px;font-size:6.3px;color:rgba(255,255,255,0.62);transform:scaleX(1.0896);transform-origin:center 0;">Total</div>
<div class="t" style="left:697.49px;top:146.00px;font-size:12.0px;color:#ece2d8;-webkit-text-stroke:0.408px #ece2d8;transform:scaleX(0.9391);transform-origin:center 0;">4,145</div>
<div class="b" style="left:630px;top:207.5px;width:164px;height:0px;background:none;border-top:0.7px dashed rgba(255,255,255,0.06);"></div>
<div class="b" style="left:668px;top:207.5px;width:0px;height:34px;background:none;border-left:0.7px dashed rgba(255,255,255,0.06);"></div>
<div class="b" style="left:711.4px;top:207.5px;width:0px;height:34px;background:none;border-left:0.7px dashed rgba(255,255,255,0.06);"></div>
<div class="b" style="left:755.3px;top:207.5px;width:0px;height:34px;background:none;border-left:0.7px dashed rgba(255,255,255,0.06);"></div>
<div class="b" style="left:636.10px;top:218.20px;width:2.8px;height:2.8px;border-radius:50%;background:#e05b5b;"></div>
<div class="t" style="left:640.40px;top:218.00px;font-size:5.3px;color:rgba(255,255,255,0.7);">Mobile</div>
<div class="t" style="left:639.49px;top:228.00px;font-size:6.8px;color:#ece2d8;-webkit-text-stroke:0.231px #ece2d8;">1,624</div>
<div class="b" style="left:676.00px;top:218.20px;width:2.8px;height:2.8px;border-radius:50%;background:#27b4e8;"></div>
<div class="t" style="left:680.30px;top:218.00px;font-size:5.3px;color:rgba(255,255,255,0.7);transform:scaleX(1.0286);transform-origin:left 0;">Desktop</div>
<div class="t" style="left:681.49px;top:228.00px;font-size:6.8px;color:#ece2d8;-webkit-text-stroke:0.231px #ece2d8;">1,267</div>
<div class="b" style="left:721.40px;top:218.20px;width:2.8px;height:2.8px;border-radius:50%;background:#f5b849;"></div>
<div class="t" style="left:725.70px;top:218.00px;font-size:5.3px;color:rgba(255,255,255,0.7);transform:scaleX(1.0055);transform-origin:left 0;">Laptop</div>
<div class="t" style="left:725.29px;top:228.00px;font-size:6.8px;color:#ece2d8;-webkit-text-stroke:0.231px #ece2d8;">1,153</div>
<div class="b" style="left:765.80px;top:218.20px;width:2.8px;height:2.8px;border-radius:50%;background:#26bf94;"></div>
<div class="t" style="left:770.10px;top:218.00px;font-size:5.3px;color:rgba(255,255,255,0.7);transform:scaleX(1.0606);transform-origin:left 0;">Tablet</div>
<div class="t" style="left:771.93px;top:228.00px;font-size:6.8px;color:#ece2d8;-webkit-text-stroke:0.231px #ece2d8;">679</div>
<div class="b" style="left:110.0px;top:143.5px;width:1.6px;height:6.6px;background:linear-gradient(#e0605e 0 50%, #3d9fb5 50% 100%);border-radius:0.6px;"></div>
<div class="t" style="left:114.50px;top:143.00px;font-size:7.2px;color:#ece2d8;-webkit-text-stroke:0.245px #ece2d8;transform:scaleX(0.9339);transform-origin:left 0;">Top Deals</div>
<div class="b" style="left:106px;top:159.4px;width:164.5px;height:0.8px;background:rgba(255,255,255,0.075);"></div>
<div class="b" style="left:251px;top:141.2px;width:11px;height:11.4px;background:rgba(255,255,255,0.05);border-radius:2px;"></div>
<svg class="b" style="left:255.5px;top:144px;" width="2" height="6" viewBox="0 0 2 6"><circle cx="1" cy="1.2" r="0.45" fill="#d8c8bc"/><circle cx="1" cy="3" r="0.45" fill="#d8c8bc"/><circle cx="1" cy="4.8" r="0.45" fill="#d8c8bc"/></svg>
<svg class="b" style="left:114.4px;top:167.70000000000002px;border-radius:50%;" width="17.2" height="17.2" viewBox="0 0 17.2 17.2"><defs><clipPath id="avtd0"><circle cx="8.6" cy="8.6" r="8.6"/></clipPath></defs><circle cx="8.6" cy="8.6" r="8.6" fill="#e6eefa"/><g clip-path="url(#avtd0)"><g transform="scale(0.86)"><path d="M3.2,21 C3.6,16 6.4,14.4 10,14.4 C13.6,14.4 16.4,16 16.8,21 Z" fill="#23406e"/><path d="M8.9,14.4 L10,18.5 L11.1,14.4 Z" fill="#3a86c8"/><rect x="8.8" y="11.8" width="2.4" height="2.8" fill="#e9a89a"/><ellipse cx="10" cy="9.4" rx="3.5" ry="4.1" fill="#e9a89a"/><path d="M6.3,9 C5.9,4.8 7.6,3.9 10,3.9 C12.5,3.9 14.2,5 13.8,9 C13.2,7 11.8,6.4 10,6.5 C8.2,6.4 6.9,7.2 6.3,9 Z" fill="#1b2233"/><path d="M7.3,9.3 H9.4 M10.6,9.3 H12.7" stroke="#222" stroke-width="0.9"/></g></g></svg>
<div class="t" style="left:134.90px;top:170.00px;font-size:5.8px;color:#ece2d8;-webkit-text-stroke:0.197px #ece2d8;transform:scaleX(1.0195);transform-origin:left 0;">Michael Jordan</div>
<div class="t" style="left:134.90px;top:178.00px;font-size:5.6px;color:rgba(255,255,255,0.5);transform:scaleX(0.9429);transform-origin:left 0;">michael.jordan@example.com</div>
<div class="t" style="left:239.06px;top:169.00px;font-size:7.5px;color:#ece2d8;-webkit-text-stroke:0.255px #ece2d8;transform:scaleX(0.9416);transform-origin:right 0;">$2,893</div>
<div class="b" style="left:114.4px;top:193.0px;width:17.2px;height:17.2px;border-radius:50%;background:rgba(245,184,73,0.12);"></div>
<div class="t" style="left:119.26px;top:200.00px;font-size:5.6px;color:#f5b849;-webkit-text-stroke:0.190px #f5b849;">EK</div>
<div class="t" style="left:134.90px;top:195.00px;font-size:5.8px;color:#ece2d8;-webkit-text-stroke:0.197px #ece2d8;transform:scaleX(0.9880);transform-origin:left 0;">Emigo Kiaren</div>
<div class="t" style="left:134.90px;top:203.00px;font-size:5.6px;color:rgba(255,255,255,0.5);transform:scaleX(0.9389);transform-origin:left 0;">emigo.kiaren@gmail.com</div>
<div class="t" style="left:239.06px;top:194.00px;font-size:7.5px;color:#ece2d8;-webkit-text-stroke:0.255px #ece2d8;transform:scaleX(0.9416);transform-origin:right 0;">$4,289</div>
<svg class="b" style="left:114.4px;top:215.9px;border-radius:50%;" width="17.2" height="17.2" viewBox="0 0 17.2 17.2"><defs><clipPath id="avtd2"><circle cx="8.6" cy="8.6" r="8.6"/></clipPath></defs><circle cx="8.6" cy="8.6" r="8.6" fill="#f4f8fb"/><g clip-path="url(#avtd2)"><g transform="scale(0.86)"><path d="M3.2,21 C3.6,16 6.4,14.4 10,14.4 C13.6,14.4 16.4,16 16.8,21 Z" fill="#eeeeee"/><path d="M8.9,14.4 L10,18.5 L11.1,14.4 Z" fill="#6aa8d8"/><rect x="8.8" y="11.8" width="2.4" height="2.8" fill="#b97a5a"/><ellipse cx="10" cy="9.4" rx="3.5" ry="4.1" fill="#b97a5a"/><path d="M6.3,9 C5.9,4.8 7.6,3.9 10,3.9 C12.5,3.9 14.2,5 13.8,9 C13.2,7 11.8,6.4 10,6.5 C8.2,6.4 6.9,7.2 6.3,9 Z" fill="#2a2622"/></g></g></svg>
<div class="t" style="left:134.90px;top:218.00px;font-size:5.8px;color:#ece2d8;-webkit-text-stroke:0.197px #ece2d8;transform:scaleX(0.9843);transform-origin:left 0;">Randy Origoan</div>
<div class="t" style="left:134.90px;top:226.00px;font-size:5.6px;color:rgba(255,255,255,0.5);transform:scaleX(0.9503);transform-origin:left 0;">randy.origoan@gmail.com</div>
<div class="t" style="left:239.06px;top:217.00px;font-size:7.5px;color:#ece2d8;-webkit-text-stroke:0.255px #ece2d8;transform:scaleX(0.9241);transform-origin:right 0;">$6,347</div>
<div class="b" style="left:114.4px;top:240.70000000000002px;width:17.2px;height:17.2px;border-radius:50%;background:rgba(38,191,148,0.12);"></div>
<div class="t" style="left:118.95px;top:247.00px;font-size:5.6px;color:#26bf94;-webkit-text-stroke:0.190px #26bf94;">GP</div>
<div class="t" style="left:134.90px;top:243.00px;font-size:5.8px;color:#ece2d8;-webkit-text-stroke:0.197px #ece2d8;transform:scaleX(1.0251);transform-origin:left 0;">George Pieterson</div>
<div class="t" style="left:134.90px;top:251.00px;font-size:5.6px;color:rgba(255,255,255,0.5);transform:scaleX(0.9517);transform-origin:left 0;">george.pieterson@gmail.com</div>
<div class="t" style="left:239.06px;top:242.00px;font-size:7.5px;color:#ece2d8;-webkit-text-stroke:0.255px #ece2d8;transform:scaleX(0.9416);transform-origin:right 0;">$3,894</div>
<div class="b" style="left:110.0px;top:284.5px;width:1.6px;height:6.6px;background:linear-gradient(#e0605e 0 50%, #3d9fb5 50% 100%);border-radius:0.6px;"></div>
<div class="t" style="left:114.50px;top:284.00px;font-size:7.2px;color:#ece2d8;-webkit-text-stroke:0.245px #ece2d8;transform:scaleX(0.9518);transform-origin:left 0;">Profit Earned</div>
<div class="b" style="left:106px;top:299.2px;width:164.5px;height:0.8px;background:rgba(255,255,255,0.075);"></div>
<div class="t" style="left:233.20px;top:286.00px;font-size:5.8px;color:rgba(255,255,255,0.55);transform:scaleX(0.9899);transform-origin:left 0;">View All</div>
<svg class="b" style="left:255px;top:286.3px;" width="4" height="3" viewBox="0 0 4 3"><path d="M0.6,0.8 L1.9,2.1 L3.2,0.8" fill="none" stroke="rgba(255,255,255,0.55)" stroke-width="0.6"/></svg>
<svg class="b" style="left:0px;top:0px;pointer-events:none;" width="800" height="636" viewBox="0 0 800 636"><path d="M137.30,320.50 H258.00" stroke="rgba(255,255,255,0.07)" stroke-width="0.6"/><path d="M137.30,329.98 H258.00" stroke="rgba(255,255,255,0.07)" stroke-width="0.6"/><path d="M137.30,339.46 H258.00" stroke="rgba(255,255,255,0.07)" stroke-width="0.6"/><path d="M137.30,348.94 H258.00" stroke="rgba(255,255,255,0.07)" stroke-width="0.6"/><path d="M137.30,358.42 H258.00" stroke="rgba(255,255,255,0.07)" stroke-width="0.6"/><path d="M137.30,367.90 H258.00" stroke="rgba(255,255,255,0.07)" stroke-width="0.6"/><path d="M137.30,320.50 V367.90" stroke="rgba(255,255,255,0.07)" stroke-width="0.6"/><path d="M154.54,320.50 V367.90" stroke="rgba(255,255,255,0.07)" stroke-width="0.6"/><path d="M171.79,320.50 V367.90" stroke="rgba(255,255,255,0.07)" stroke-width="0.6"/><path d="M189.03,320.50 V367.90" stroke="rgba(255,255,255,0.07)" stroke-width="0.6"/><path d="M206.27,320.50 V367.90" stroke="rgba(255,255,255,0.07)" stroke-width="0.6"/><path d="M223.51,320.50 V367.90" stroke="rgba(255,255,255,0.07)" stroke-width="0.6"/><path d="M240.76,320.50 V367.90" stroke="rgba(255,255,255,0.07)" stroke-width="0.6"/><path d="M258.00,320.50 V367.90" stroke="rgba(255,255,255,0.07)" stroke-width="0.6"/><path d="M140.90,367.90 V348.89 Q140.90,347.99 141.80,347.99 H144.70 Q145.60,347.99 145.60,348.89 V367.90 Z" fill="#e05b62"/><path d="M145.80,367.90 V353.63 Q145.80,352.73 146.70,352.73 H149.60 Q150.50,352.73 150.50,353.63 V367.90 Z" fill="#e6dcd3"/><path d="M158.14,367.90 V349.84 Q158.14,348.94 159.04,348.94 H161.94 Q162.84,348.94 162.84,349.84 V367.90 Z" fill="#e05b62"/><path d="M163.04,367.90 V358.85 Q163.04,357.95 163.94,357.95 H166.84 Q167.74,357.95 167.74,358.85 V367.90 Z" fill="#e6dcd3"/><path d="M175.39,367.90 V342.73 Q175.39,341.83 176.29,341.83 H179.19 Q180.09,341.83 180.09,342.73 V367.90 Z" fill="#e05b62"/><path d="M180.29,367.90 V351.74 Q180.29,350.84 181.19,350.84 H184.09 Q184.99,350.84 184.99,351.74 V367.90 Z" fill="#e6dcd3"/><path d="M192.63,367.90 V328.51 Q192.63,327.61 193.53,327.61 H196.43 Q197.33,327.61 197.33,328.51 V367.90 Z" fill="#e05b62"/><path d="M197.53,367.90 V343.20 Q197.53,342.30 198.43,342.30 H201.33 Q202.23,342.30 202.23,343.20 V367.90 Z" fill="#e6dcd3"/><path d="M209.87,367.90 V341.78 Q209.87,340.88 210.77,340.88 H213.67 Q214.57,340.88 214.57,341.78 V367.90 Z" fill="#e05b62"/><path d="M214.77,367.90 V359.32 Q214.77,358.42 215.67,358.42 H218.57 Q219.47,358.42 219.47,359.32 V367.90 Z" fill="#e6dcd3"/><path d="M227.11,367.90 V343.68 Q227.11,342.78 228.01,342.78 H230.91 Q231.81,342.78 231.81,343.68 V367.90 Z" fill="#e05b62"/><path d="M232.01,367.90 V353.16 Q232.01,352.26 232.91,352.26 H235.81 Q236.71,352.26 236.71,353.16 V367.90 Z" fill="#e6dcd3"/><path d="M244.36,367.90 V336.57 Q244.36,335.67 245.26,335.67 H248.16 Q249.06,335.67 249.06,336.57 V367.90 Z" fill="#e05b62"/><path d="M249.26,367.90 V341.31 Q249.26,340.41 250.16,340.41 H253.06 Q253.96,340.41 253.96,341.31 V367.90 Z" fill="#e6dcd3"/></svg>
<div class="t" style="left:125.79px;top:319.00px;font-size:4.8px;color:rgba(255,255,255,0.6);">100</div>
<div class="t" style="left:128.46px;top:329.00px;font-size:4.8px;color:rgba(255,255,255,0.6);">80</div>
<div class="t" style="left:128.46px;top:338.00px;font-size:4.8px;color:rgba(255,255,255,0.6);">60</div>
<div class="t" style="left:128.46px;top:348.00px;font-size:4.8px;color:rgba(255,255,255,0.6);">40</div>
<div class="t" style="left:128.46px;top:357.00px;font-size:4.8px;color:rgba(255,255,255,0.6);">20</div>
<div class="t" style="left:131.13px;top:367.00px;font-size:4.8px;color:rgba(255,255,255,0.6);">0</div>
<div class="t" style="left:144.12px;top:374.00px;font-size:5.4px;color:rgba(255,255,255,0.6);">S</div>
<div class="t" style="left:160.92px;top:374.00px;font-size:5.4px;color:rgba(255,255,255,0.6);">M</div>
<div class="t" style="left:178.76px;top:374.00px;font-size:5.4px;color:rgba(255,255,255,0.6);">T</div>
<div class="t" style="left:195.10px;top:374.00px;font-size:5.4px;color:rgba(255,255,255,0.6);">W</div>
<div class="t" style="left:213.24px;top:374.00px;font-size:5.4px;color:rgba(255,255,255,0.6);">T</div>
<div class="t" style="left:230.49px;top:374.00px;font-size:5.4px;color:rgba(255,255,255,0.6);">F</div>
<div class="t" style="left:247.58px;top:374.00px;font-size:5.4px;color:rgba(255,255,255,0.6);">S</div>
<div class="t" style="left:121.0px;top:342.5px;font-size:5.8px;color:rgba(255,255,255,0.6);-webkit-text-stroke:0.12px rgba(255,255,255,0.6);transform:translate(-50%,-50%) rotate(-90deg) scaleX(1.04);">Profit Earned</div>
<div class="b" style="left:285.0px;top:213.5px;width:1.6px;height:6.6px;background:linear-gradient(#e0605e 0 50%, #3d9fb5 50% 100%);border-radius:0.6px;"></div>
<div class="t" style="left:289.50px;top:213.00px;font-size:7.2px;color:#ece2d8;-webkit-text-stroke:0.245px #ece2d8;transform:scaleX(0.9589);transform-origin:left 0;">Revenue Analytics</div>
<div class="b" style="left:281px;top:228.0px;width:339px;height:0.8px;background:rgba(255,255,255,0.075);"></div>
<div class="t" style="left:582.20px;top:215.00px;font-size:5.8px;color:rgba(255,255,255,0.55);transform:scaleX(0.9503);transform-origin:left 0;">View All</div>
<svg class="b" style="left:603.8px;top:215.8px;" width="4" height="3" viewBox="0 0 4 3"><path d="M0.6,0.8 L1.9,2.1 L3.2,0.8" fill="none" stroke="rgba(255,255,255,0.55)" stroke-width="0.6"/></svg>
<div class="t" style="left:293.20px;top:237.00px;font-size:6.2px;color:rgba(255,255,255,0.35);transform:scaleX(0.8798);transform-origin:left 0;">Revenue Analytics with sales &amp; profit (USD)</div>
<svg class="b" style="left:555px;top:239.3px;" width="54" height="7" viewBox="0 0 54 7"><circle cx="3.9" cy="3.1" r="2.6" fill="none" stroke="rgba(150,165,190,0.6)" stroke-width="0.55"/><path d="M2.7,3.1 H5.1 M3.9,1.9 V4.3" stroke="rgba(150,165,190,0.6)" stroke-width="0.5"/><circle cx="12" cy="3.1" r="2.6" fill="none" stroke="rgba(150,165,190,0.6)" stroke-width="0.55"/><path d="M10.8,3.1 H13.2" stroke="rgba(150,165,190,0.6)" stroke-width="0.5"/><circle cx="20.4" cy="2.6" r="2.0" fill="none" stroke="#3a8ad0" stroke-width="0.9"/><path d="M21.8,4.1 L23.6,5.9" stroke="#3a8ad0" stroke-width="1"/><path d="M28.3,6 V3.2 Q28.3,2.3 29.1,2.3 V1.2 Q29.1,0.4 30,0.4 Q30.9,0.4 30.9,1.2 V1.5 Q31.8,1.3 32,2.1 Q33.2,2 33.2,3 V6 Z" fill="#f4f1ee"/><path d="M38,3 L40.9,0.5 L43.8,3 V6 H42 V4.3 H39.8 V6 H38 Z" fill="#4e93d6"/><path d="M46.2,1.2 H52.7 M46.2,3.1 H52.7 M46.2,5 H52.7" stroke="rgba(150,165,190,0.6)" stroke-width="0.7"/></svg>
<svg class="b" style="left:0px;top:0px;" width="800" height="636" viewBox="0 0 800 636"><path d="M310.70,257.70 H601.60" stroke="rgba(255,255,255,0.09)" stroke-width="0.5" stroke-dasharray="1,1"/><path d="M310.70,278.24 H601.60" stroke="rgba(255,255,255,0.09)" stroke-width="0.5" stroke-dasharray="1,1"/><path d="M310.70,298.78 H601.60" stroke="rgba(255,255,255,0.09)" stroke-width="0.5" stroke-dasharray="1,1"/><path d="M310.70,319.32 H601.60" stroke="rgba(255,255,255,0.09)" stroke-width="0.5" stroke-dasharray="1,1"/><path d="M310.70,339.86 H601.60" stroke="rgba(255,255,255,0.09)" stroke-width="0.5" stroke-dasharray="1,1"/><path d="M310.70,360.40 H601.60" stroke="rgba(255,255,255,0.09)" stroke-width="0.5" stroke-dasharray="1,1"/><path d="M310.70,257.70 V360.40" stroke="rgba(255,255,255,0.08)" stroke-width="0.5" stroke-dasharray="1,1"/><path d="M337.15,257.70 V360.40" stroke="rgba(255,255,255,0.08)" stroke-width="0.5" stroke-dasharray="1,1"/><path d="M363.59,257.70 V360.40" stroke="rgba(255,255,255,0.08)" stroke-width="0.5" stroke-dasharray="1,1"/><path d="M390.04,257.70 V360.40" stroke="rgba(255,255,255,0.08)" stroke-width="0.5" stroke-dasharray="1,1"/><path d="M416.48,257.70 V360.40" stroke="rgba(255,255,255,0.08)" stroke-width="0.5" stroke-dasharray="1,1"/><path d="M442.93,257.70 V360.40" stroke="rgba(255,255,255,0.08)" stroke-width="0.5" stroke-dasharray="1,1"/><path d="M469.37,257.70 V360.40" stroke="rgba(255,255,255,0.08)" stroke-width="0.5" stroke-dasharray="1,1"/><path d="M495.82,257.70 V360.40" stroke="rgba(255,255,255,0.08)" stroke-width="0.5" stroke-dasharray="1,1"/><path d="M522.26,257.70 V360.40" stroke="rgba(255,255,255,0.08)" stroke-width="0.5" stroke-dasharray="1,1"/><path d="M548.71,257.70 V360.40" stroke="rgba(255,255,255,0.08)" stroke-width="0.5" stroke-dasharray="1,1"/><path d="M575.15,257.70 V360.40" stroke="rgba(255,255,255,0.08)" stroke-width="0.5" stroke-dasharray="1,1"/><path d="M601.60,257.70 V360.40" stroke="rgba(255,255,255,0.08)" stroke-width="0.5" stroke-dasharray="1,1"/><path d="M310.70,360.40 H601.60" stroke="rgba(255,255,255,0.12)" stroke-width="0.6"/><path d="M310.70,350.54 C323.92,350.54 323.92,339.24 337.15,339.24 C350.37,339.24 350.37,342.32 363.59,342.32 C376.81,342.32 376.81,314.29 390.04,314.29 C403.26,314.29 403.26,337.19 416.48,337.19 C429.70,337.19 429.70,327.95 442.93,327.95 C456.15,327.95 456.15,293.03 469.37,293.03 C482.60,293.03 482.60,275.06 495.82,275.06 C509.04,275.06 509.04,324.04 522.26,324.04 C535.49,324.04 535.49,324.04 548.71,324.04 C561.93,324.04 561.93,338.63 575.15,338.63 C588.38,338.63 588.38,318.19 601.60,318.19 L601.6,360.4 L310.7,360.4 Z" fill="rgba(230,90,80,0.05)"/><path d="M310.70,342.32 C323.92,342.32 323.92,297.24 337.15,297.24 C350.37,297.24 350.37,311.62 363.59,311.62 C376.81,311.62 376.81,338.83 390.04,338.83 C403.26,338.83 403.26,307.51 416.48,307.51 C429.70,307.51 429.70,280.70 442.93,280.70 C456.15,280.70 456.15,315.93 469.37,315.93 C482.60,315.93 482.60,306.89 495.82,306.89 C509.04,306.89 509.04,285.12 522.26,285.12 C535.49,285.12 535.49,313.67 548.71,313.67 C561.93,313.67 561.93,305.76 575.15,305.76 C588.38,305.76 588.38,336.37 601.60,336.37" fill="none" stroke="#3d9fb5" stroke-width="1.2" stroke-dasharray="2,1.5"/><path d="M310.70,350.54 C323.92,350.54 323.92,339.24 337.15,339.24 C350.37,339.24 350.37,342.32 363.59,342.32 C376.81,342.32 376.81,314.29 390.04,314.29 C403.26,314.29 403.26,337.19 416.48,337.19 C429.70,337.19 429.70,327.95 442.93,327.95 C456.15,327.95 456.15,293.03 469.37,293.03 C482.60,293.03 482.60,275.06 495.82,275.06 C509.04,275.06 509.04,324.04 522.26,324.04 C535.49,324.04 535.49,324.04 548.71,324.04 C561.93,324.04 561.93,338.63 575.15,338.63 C588.38,338.63 588.38,318.19 601.60,318.19" fill="none" stroke="#e0605a" stroke-width="1.2"/></svg>
<div class="t" style="left:296.37px;top:256.00px;font-size:4.6px;color:rgba(255,255,255,0.55);">1000</div>
<div class="t" style="left:298.92px;top:277.00px;font-size:4.6px;color:rgba(255,255,255,0.55);">800</div>
<div class="t" style="left:298.92px;top:297.00px;font-size:4.6px;color:rgba(255,255,255,0.55);">600</div>
<div class="t" style="left:298.92px;top:318.00px;font-size:4.6px;color:rgba(255,255,255,0.55);">400</div>
<div class="t" style="left:298.92px;top:338.00px;font-size:4.6px;color:rgba(255,255,255,0.55);">200</div>
<div class="t" style="left:304.04px;top:359.00px;font-size:4.6px;color:rgba(255,255,255,0.55);">0</div>
<div class="t" style="left:306.67px;top:367.00px;font-size:5.0px;color:rgba(255,255,255,0.6);">Jan</div>
<div class="t" style="left:332.84px;top:367.00px;font-size:5.0px;color:rgba(255,255,255,0.6);">Feb</div>
<div class="t" style="left:359.29px;top:367.00px;font-size:5.0px;color:rgba(255,255,255,0.6);">Mar</div>
<div class="t" style="left:386.15px;top:367.00px;font-size:5.0px;color:rgba(255,255,255,0.6);">Apr</div>
<div class="t" style="left:411.76px;top:367.00px;font-size:5.0px;color:rgba(255,255,255,0.6);">May</div>
<div class="t" style="left:438.90px;top:367.00px;font-size:5.0px;color:rgba(255,255,255,0.6);">Jun</div>
<div class="t" style="left:466.18px;top:367.00px;font-size:5.0px;color:rgba(255,255,255,0.6);">Jul</div>
<div class="t" style="left:491.37px;top:367.00px;font-size:5.0px;color:rgba(255,255,255,0.6);">Aug</div>
<div class="t" style="left:517.82px;top:367.00px;font-size:5.0px;color:rgba(255,255,255,0.6);">Sep</div>
<div class="t" style="left:544.82px;top:367.00px;font-size:5.0px;color:rgba(255,255,255,0.6);">Oct</div>
<div class="t" style="left:570.71px;top:367.00px;font-size:5.0px;color:rgba(255,255,255,0.6);">Nov</div>
<div class="t" style="left:597.15px;top:367.00px;font-size:5.0px;color:rgba(255,255,255,0.6);">Dec</div>
<div class="b" style="left:411.2px;top:376.7px;width:5.4px;height:5.4px;border-radius:50%;background:rgba(0,0,0,0.06);"></div>
<div class="t" style="left:420.00px;top:378.00px;font-size:5.4px;color:rgba(255,255,255,0.7);transform:scaleX(0.8661);transform-origin:left 0;">Sales</div>
<div class="b" style="left:436.7px;top:376.7px;width:5.4px;height:5.4px;border-radius:50%;background:#2aa8d8;"></div>
<div class="t" style="left:445.00px;top:378.00px;font-size:5.4px;color:rgba(255,255,255,0.7);transform:scaleX(0.9252);transform-origin:left 0;">Revenue</div>
<div class="b" style="left:469.0px;top:376.7px;width:5.4px;height:5.4px;border-radius:50%;background:#e0605a;"></div>
<div class="t" style="left:476.80px;top:378.00px;font-size:5.4px;color:rgba(255,255,255,0.7);transform:scaleX(1.0076);transform-origin:left 0;">Profit</div>
<div class="b" style="left:634.0px;top:260.29999999999995px;width:1.6px;height:6.6px;background:linear-gradient(#e0605e 0 50%, #3d9fb5 50% 100%);border-radius:0.6px;"></div>
<div class="t" style="left:638.50px;top:260.00px;font-size:7.2px;color:#ece2d8;-webkit-text-stroke:0.245px #ece2d8;transform:scaleX(0.9505);transform-origin:left 0;">Deals Status</div>
<div class="b" style="left:630px;top:274.1px;width:164px;height:0.8px;background:rgba(255,255,255,0.075);"></div>
<div class="t" style="left:756.80px;top:261.00px;font-size:5.8px;color:rgba(255,255,255,0.55);transform:scaleX(0.9899);transform-origin:left 0;">View All</div>
<svg class="b" style="left:779px;top:261.8px;" width="4" height="3" viewBox="0 0 4 3"><path d="M0.6,0.8 L1.9,2.1 L3.2,0.8" fill="none" stroke="rgba(255,255,255,0.55)" stroke-width="0.6"/></svg>
<div class="t" style="left:638.20px;top:285.00px;font-size:10.2px;color:#ece2d8;-webkit-text-stroke:0.347px #ece2d8;transform:scaleX(1.1479);transform-origin:left 0;">4,289</div>
<div class="b" style="left:671.6px;top:286px;width:19.2px;height:7.3px;background:rgba(38,191,148,0.12);border-radius:1.2px;"></div>
<div class="t" style="left:674.20px;top:288.00px;font-size:4.5px;color:#26bf94;transform:scaleX(0.9134);transform-origin:left 0;">1.02</div>
<svg class="b" style="left:684.5px;top:288.4px;" width="3" height="3" viewBox="0 0 3 3"><path d="M0.3,2.4 L1.5,0.6 L2.7,2.4 Z" fill="#26bf94"/></svg>
<div class="t" style="left:694.30px;top:287.00px;font-size:6.3px;color:rgba(255,255,255,0.55);transform:scaleX(0.9329);transform-origin:left 0;">compared to last week</div>
<div class="b" style="left:638.2px;top:302.3px;width:31.0px;height:1.8px;background:#e05b5b;border-radius:0.9px;"></div>
<div class="b" style="left:669.6px;top:302.3px;width:37.7px;height:1.8px;background:#27b4e8;border-radius:0.9px;"></div>
<div class="b" style="left:707.7px;top:302.3px;width:51.8px;height:1.8px;background:#f5b849;border-radius:0.9px;"></div>
<div class="b" style="left:759.9px;top:302.3px;width:26.1px;height:1.8px;background:#26bf94;border-radius:0.9px;"></div>
<div class="b" style="left:638.3px;top:320.1px;width:3.4px;height:3.4px;border-radius:50%;background:#e05b5b;"></div>
<div class="t" style="left:644.80px;top:319.00px;font-size:6.0px;color:rgba(255,255,255,0.78);transform:scaleX(0.9626);transform-origin:left 0;">Successful Deals</div>
<div class="t" style="left:762.81px;top:320.00px;font-size:5.3px;color:rgba(255,255,255,0.45);transform:scaleX(1.0136);transform-origin:right 0;">987 deals</div>
<div class="b" style="left:638.3px;top:335.0px;width:3.4px;height:3.4px;border-radius:50%;background:#27b4e8;"></div>
<div class="t" style="left:644.80px;top:334.00px;font-size:6.0px;color:rgba(255,255,255,0.78);transform:scaleX(0.9609);transform-origin:left 0;">Pending Deals</div>
<div class="t" style="left:758.39px;top:335.00px;font-size:5.3px;color:rgba(255,255,255,0.45);transform:scaleX(0.9633);transform-origin:right 0;">1,073 deals</div>
<div class="b" style="left:638.3px;top:349.90000000000003px;width:3.4px;height:3.4px;border-radius:50%;background:#f5b849;"></div>
<div class="t" style="left:644.80px;top:349.00px;font-size:6.0px;color:rgba(255,255,255,0.78);transform:scaleX(0.9634);transform-origin:left 0;">Rejected Deals</div>
<div class="t" style="left:758.39px;top:350.00px;font-size:5.3px;color:rgba(255,255,255,0.45);transform:scaleX(0.9633);transform-origin:right 0;">1,674 deals</div>
<div class="b" style="left:638.3px;top:364.7px;width:3.4px;height:3.4px;border-radius:50%;background:#26bf94;"></div>
<div class="t" style="left:644.80px;top:364.00px;font-size:6.0px;color:rgba(255,255,255,0.78);transform:scaleX(0.9541);transform-origin:left 0;">Upcoming Deals</div>
<div class="t" style="left:762.81px;top:364.00px;font-size:5.3px;color:rgba(255,255,255,0.45);transform:scaleX(1.0136);transform-origin:right 0;">921 deals</div>
<div class="b" style="left:634.0px;top:397.29999999999995px;width:1.6px;height:6.6px;background:linear-gradient(#e0605e 0 50%, #3d9fb5 50% 100%);border-radius:0.6px;"></div>
<div class="t" style="left:638.50px;top:397.00px;font-size:7.2px;color:#ece2d8;-webkit-text-stroke:0.245px #ece2d8;">Recent Activity</div>
<div class="b" style="left:630px;top:411.4px;width:164px;height:0.8px;background:rgba(255,255,255,0.075);"></div>
<div class="t" style="left:756.80px;top:398.00px;font-size:5.8px;color:rgba(255,255,255,0.55);transform:scaleX(0.9899);transform-origin:left 0;">View All</div>
<svg class="b" style="left:779px;top:398.7px;" width="4" height="3" viewBox="0 0 4 3"><path d="M0.6,0.8 L1.9,2.1 L3.2,0.8" fill="none" stroke="rgba(255,255,255,0.55)" stroke-width="0.6"/></svg>
<div class="b" style="left:642.1px;top:424.5px;width:0.7px;height:165px;background:rgba(255,255,255,0.07);"></div>
<div class="b" style="left:638.80px;top:421.10px;width:7.2px;height:7.2px;border-radius:50%;background:rgba(255,255,255,0.08);"></div>
<div class="b" style="left:640.50px;top:422.80px;width:3.8px;height:3.8px;border-radius:50%;background:#e05b5b;"></div>
<div class="b" style="left:638.80px;top:446.70px;width:7.2px;height:7.2px;border-radius:50%;background:rgba(255,255,255,0.08);"></div>
<div class="b" style="left:640.50px;top:448.40px;width:3.8px;height:3.8px;border-radius:50%;background:#27b4e8;"></div>
<div class="b" style="left:638.80px;top:480.10px;width:7.2px;height:7.2px;border-radius:50%;background:rgba(255,255,255,0.08);"></div>
<div class="b" style="left:640.50px;top:481.80px;width:3.8px;height:3.8px;border-radius:50%;background:#26bf94;"></div>
<div class="b" style="left:638.80px;top:497.90px;width:7.2px;height:7.2px;border-radius:50%;background:rgba(255,255,255,0.08);"></div>
<div class="b" style="left:640.50px;top:499.60px;width:3.8px;height:3.8px;border-radius:50%;background:#f49ac1;"></div>
<div class="b" style="left:638.80px;top:523.60px;width:7.2px;height:7.2px;border-radius:50%;background:rgba(255,255,255,0.08);"></div>
<div class="b" style="left:640.50px;top:525.30px;width:3.8px;height:3.8px;border-radius:50%;background:#f5b849;"></div>
<div class="b" style="left:638.80px;top:541.30px;width:7.2px;height:7.2px;border-radius:50%;background:rgba(255,255,255,0.08);"></div>
<div class="b" style="left:640.50px;top:543.00px;width:3.8px;height:3.8px;border-radius:50%;background:#27b4e8;"></div>
<div class="b" style="left:638.80px;top:566.70px;width:7.2px;height:7.2px;border-radius:50%;background:rgba(255,255,255,0.08);"></div>
<div class="b" style="left:640.50px;top:568.40px;width:3.8px;height:3.8px;border-radius:50%;background:#ffffff;"></div>
<div class="b" style="left:638.80px;top:585.70px;width:7.2px;height:7.2px;border-radius:50%;background:rgba(255,255,255,0.08);"></div>
<div class="b" style="left:640.50px;top:587.40px;width:3.8px;height:3.8px;border-radius:50%;background:#9e5cf7;"></div>
<div class="t" style="left:653.30px;top:422.00px;font-size:5.7px;color:rgba(255,255,255,0.8);transform:scaleX(0.9871);transform-origin:left 0;"><b style="color:#f0e6de">Update of calendar events &amp; </b><span style="color:#e8605e">Added</span></div>
<div class="t" style="left:653.30px;top:430.00px;font-size:5.7px;color:#e8605e;transform:scaleX(1.0363);transform-origin:left 0;">new events in next week.</div>
<div class="t" style="left:768.77px;top:422.00px;font-size:5.0px;color:rgba(255,255,255,0.42);transform:scaleX(0.9749);transform-origin:right 0;">4:45PM</div>
<div class="t" style="left:653.30px;top:448.00px;font-size:5.7px;color:rgba(255,255,255,0.8);">New theme for <b style="color:#f0e6de">Spruko Website</b></div>
<div class="t" style="left:653.30px;top:456.00px;font-size:5.7px;color:rgba(255,255,255,0.8);transform:scaleX(1.0266);transform-origin:left 0;">completed</div>
<div class="t" style="left:653.30px;top:464.00px;font-size:5.3px;color:rgba(255,255,255,0.5);transform:scaleX(1.0080);transform-origin:left 0;">Lorem ipsum, dolor sit amet.</div>
<div class="t" style="left:774.88px;top:447.00px;font-size:5.0px;color:rgba(255,255,255,0.42);transform:scaleX(0.9896);transform-origin:right 0;">3 hrs</div>
<div class="t" style="left:653.30px;top:482.00px;font-size:5.7px;color:rgba(255,255,255,0.8);transform:scaleX(1.0068);transform-origin:left 0;">Created a <span style="color:#26bf94">New Task</span> today</div>
<div class="b" style="left:726.5px;top:481.2px;width:5.6px;height:5.6px;border-radius:50%;background:rgba(158,92,247,0.15);"></div>
<div class="b" style="left:728.4px;top:483.1px;width:1.8px;height:1.8px;background:#9e5cf7;transform:rotate(45deg);"></div>
<div class="t" style="left:772.10px;top:481.00px;font-size:5.0px;color:rgba(255,255,255,0.42);transform:scaleX(0.9930);transform-origin:right 0;">22 hrs</div>
<div class="t" style="left:653.30px;top:499.00px;font-size:5.7px;color:rgba(255,255,255,0.8);transform:scaleX(0.8970);transform-origin:left 0;">New member</div>
<div class="b" style="left:689.3px;top:497.8px;width:41.4px;height:6.8px;background:rgba(244,154,193,0.12);border-radius:1.3px;"></div>
<div class="t" style="left:694.15px;top:499.00px;font-size:3.9px;color:#f49ac1;transform:scaleX(1.1668);transform-origin:center 0;">@andreas gurrero</div>
<div class="t" style="left:734.40px;top:499.00px;font-size:5.7px;color:rgba(255,255,255,0.8);transform:scaleX(1.0536);transform-origin:left 0;">added</div>
<div class="t" style="left:653.30px;top:507.00px;font-size:5.7px;color:rgba(255,255,255,0.8);transform:scaleX(1.0279);transform-origin:left 0;">today to AI Summit.</div>
<div class="t" style="left:772.66px;top:498.00px;font-size:5.0px;color:rgba(255,255,255,0.42);transform:scaleX(0.9818);transform-origin:right 0;">Today</div>
<div class="t" style="left:653.30px;top:525.00px;font-size:5.7px;color:rgba(255,255,255,0.8);transform:scaleX(1.0280);transform-origin:left 0;">32 New people joined summit.</div>
<div class="t" style="left:772.10px;top:524.00px;font-size:5.0px;color:rgba(255,255,255,0.42);transform:scaleX(0.9930);transform-origin:right 0;">22 hrs</div>
<div class="t" style="left:653.30px;top:542.00px;font-size:5.7px;color:rgba(255,255,255,0.8);transform:scaleX(1.0064);transform-origin:left 0;">Neon Tarly added <b style="color:#3bb3e6">Robert Bright</b> to AI</div>
<div class="t" style="left:653.30px;top:550.00px;font-size:5.7px;color:rgba(255,255,255,0.8);transform:scaleX(1.0481);transform-origin:left 0;">summit project.</div>
<div class="t" style="left:772.10px;top:542.00px;font-size:5.0px;color:rgba(255,255,255,0.42);transform:scaleX(0.9642);transform-origin:right 0;">12 hrs</div>
<div class="t" style="left:653.30px;top:568.00px;font-size:5.7px;color:rgba(255,255,255,0.8);transform:scaleX(1.0228);transform-origin:left 0;">Replied to new support request</div>
<svg class="b" style="left:736.5px;top:567.8px;" width="5" height="5" viewBox="0 0 5 5"><circle cx="2.5" cy="2.5" r="2" fill="none" stroke="#26bf94" stroke-width="0.6"/><path d="M1.5,2.6 L2.3,3.3 L3.6,1.8" fill="none" stroke="#26bf94" stroke-width="0.55"/></svg>
<div class="t" style="left:774.88px;top:567.00px;font-size:5.0px;color:rgba(255,255,255,0.42);transform:scaleX(0.9716);transform-origin:right 0;">4 hrs</div>
<div class="t" style="left:653.30px;top:587.00px;font-size:5.7px;color:rgba(255,255,255,0.8);transform:scaleX(1.0247);transform-origin:left 0;">Completed documentation of <span style="color:#a05ce8;text-decoration:underline;text-decoration-thickness:0.5px">AI</span></div>
<div class="t" style="left:653.30px;top:595.00px;font-size:5.7px;color:#a05ce8;transform:scaleX(1.0286);transform-origin:left 0;text-decoration:underline;text-decoration-thickness:0.5px;">Summit.</div>
<div class="t" style="left:774.88px;top:586.00px;font-size:5.0px;color:rgba(255,255,255,0.42);transform:scaleX(0.9716);transform-origin:right 0;">4 hrs</div>
<div class="b" style="left:110.0px;top:418.4px;width:1.6px;height:6.6px;background:linear-gradient(#e0605e 0 50%, #3d9fb5 50% 100%);border-radius:0.6px;"></div>
<div class="t" style="left:114.50px;top:418.00px;font-size:7.2px;color:#ece2d8;-webkit-text-stroke:0.245px #ece2d8;transform:scaleX(0.9753);transform-origin:left 0;">Deals Statistics</div>
<div class="b" style="left:106px;top:434.6px;width:514px;height:0.8px;background:rgba(255,255,255,0.075);"></div>
<div class="b" style="left:487.5px;top:415.6px;width:85.2px;height:11.9px;background:rgba(0,0,0,0.03);border-radius:2px;box-sizing:border-box;border:0.6px solid rgba(255,255,255,0.1);"></div>
<div class="t" style="left:492.50px;top:419.00px;font-size:6.0px;color:rgba(255,255,255,0.38);transform:scaleX(0.8906);transform-origin:left 0;">Search Here</div>
<div class="b" style="left:579.6px;top:415.6px;width:32.1px;height:11.9px;background:#e05b5b;border-radius:2px;"></div>
<div class="t" style="left:584.00px;top:420.00px;font-size:5.8px;color:#fff;-webkit-text-stroke:0.197px #fff;transform:scaleX(0.9570);transform-origin:left 0;">Sort By</div>
<svg class="b" style="left:604.5px;top:420.5px;" width="4" height="3" viewBox="0 0 4 3"><path d="M0.6,0.8 L1.9,2.1 L3.2,0.8" fill="none" stroke="#fff" stroke-width="0.6"/></svg>
<svg class="b" style="left:0px;top:0px;" width="800" height="636" viewBox="0 0 800 636"><path d="M114.5,443.0 H611.5" stroke="rgba(255,255,255,0.085)" stroke-width="0.6"/><path d="M114.5,462.3 H611.5" stroke="rgba(255,255,255,0.085)" stroke-width="0.6"/><path d="M114.5,484.6 H611.5" stroke="rgba(255,255,255,0.085)" stroke-width="0.6"/><path d="M114.5,506.6 H611.5" stroke="rgba(255,255,255,0.085)" stroke-width="0.6"/><path d="M114.5,528.7 H611.5" stroke="rgba(255,255,255,0.085)" stroke-width="0.6"/><path d="M114.5,551.0 H611.5" stroke="rgba(255,255,255,0.085)" stroke-width="0.6"/><path d="M114.5,573.3 H611.5" stroke="rgba(255,255,255,0.085)" stroke-width="0.6"/><path d="M114.5,443.0 V573.3" stroke="rgba(255,255,255,0.085)" stroke-width="0.6"/><path d="M143.6,443.0 V573.3" stroke="rgba(255,255,255,0.085)" stroke-width="0.6"/><path d="M236.8,443.0 V573.3" stroke="rgba(255,255,255,0.085)" stroke-width="0.6"/><path d="M307.4,443.0 V573.3" stroke="rgba(255,255,255,0.085)" stroke-width="0.6"/><path d="M419.7,443.0 V573.3" stroke="rgba(255,255,255,0.085)" stroke-width="0.6"/><path d="M468.3,443.0 V573.3" stroke="rgba(255,255,255,0.085)" stroke-width="0.6"/><path d="M561.0,443.0 V573.3" stroke="rgba(255,255,255,0.085)" stroke-width="0.6"/><path d="M611.5,443.0 V573.3" stroke="rgba(255,255,255,0.085)" stroke-width="0.6"/></svg>
<div class="b" style="left:125px;top:450.6px;width:6px;height:6px;background:transparent;border-radius:1px;box-sizing:border-box;border:0.6px solid rgba(255,255,255,0.09);"></div>
<div class="t" style="left:149.00px;top:450.00px;font-size:6.0px;color:#ece2d8;-webkit-text-stroke:0.15px #ece2d8;transform:scaleX(0.9392);transform-origin:left 0;">Sales Rep</div>
<div class="t" style="left:241.20px;top:450.00px;font-size:6.0px;color:#ece2d8;-webkit-text-stroke:0.15px #ece2d8;transform:scaleX(0.9447);transform-origin:left 0;">Category</div>
<div class="t" style="left:312.00px;top:450.00px;font-size:6.0px;color:#ece2d8;-webkit-text-stroke:0.15px #ece2d8;transform:scaleX(0.9635);transform-origin:left 0;">Mail</div>
<div class="t" style="left:424.60px;top:450.00px;font-size:6.0px;color:#ece2d8;-webkit-text-stroke:0.15px #ece2d8;transform:scaleX(0.9522);transform-origin:left 0;">Location</div>
<div class="t" style="left:473.60px;top:450.00px;font-size:6.0px;color:#ece2d8;-webkit-text-stroke:0.15px #ece2d8;transform:scaleX(0.9153);transform-origin:left 0;">Date</div>
<div class="t" style="left:566.40px;top:450.00px;font-size:6.0px;color:#ece2d8;-webkit-text-stroke:0.15px #ece2d8;transform:scaleX(1.0194);transform-origin:left 0;">Action</div>
<div class="b" style="left:125px;top:470.45000000000005px;width:6px;height:6px;background:transparent;border-radius:1px;box-sizing:border-box;border:0.6px solid rgba(255,255,255,0.08);"></div>
<svg class="b" style="left:148.8px;top:467.25000000000006px;border-radius:50%;" width="12.4" height="12.4" viewBox="0 0 12.4 12.4"><defs><clipPath id="avds0"><circle cx="6.2" cy="6.2" r="6.2"/></clipPath></defs><circle cx="6.2" cy="6.2" r="6.2" fill="#f7ece8"/><g clip-path="url(#avds0)"><g transform="scale(0.62)"><path d="M5.2,16 C4.6,9 5.5,3.6 10,3.6 C14.5,3.6 15.4,9 14.8,16 Z" fill="#5a2a22"/><path d="M3.2,21 C3.6,16 6.4,14.4 10,14.4 C13.6,14.4 16.4,16 16.8,21 Z" fill="#e2573e"/><path d="M8.9,14.4 L10,18.5 L11.1,14.4 Z" fill="#e2573e"/><rect x="8.8" y="11.8" width="2.4" height="2.8" fill="#f0c0a8"/><ellipse cx="10" cy="9.4" rx="3.5" ry="4.1" fill="#f0c0a8"/><path d="M6.3,9 C5.9,4.8 7.6,3.9 10,3.9 C12.5,3.9 14.2,5 13.8,9 C13.2,7 11.8,6.4 10,6.5 C8.2,6.4 6.9,7.2 6.3,9 Z" fill="#5a2a22"/></g></g></svg>
<div class="t" style="left:164.20px;top:470.00px;font-size:6.0px;color:#ece2d8;-webkit-text-stroke:0.15px #ece2d8;transform:scaleX(0.9763);transform-origin:left 0;">Mayor Kelly</div>
<div class="t" style="left:241.20px;top:470.00px;font-size:6.2px;color:rgba(255,255,255,0.88);transform:scaleX(0.9749);transform-origin:left 0;-webkit-text-stroke:0.06px rgba(255,255,255,0.8);">Manufacture</div>
<div class="t" style="left:312.00px;top:470.00px;font-size:6.2px;color:rgba(255,255,255,0.88);transform:scaleX(0.9349);transform-origin:left 0;-webkit-text-stroke:0.06px rgba(255,255,255,0.8);">mayorkelly@gmail.com</div>
<div class="b" style="left:425.3px;top:470.25px;width:23.6px;height:6.5px;border-radius:1.2px;background:#4fa3e0;opacity:0.12;"></div>
<div class="t" style="left:428.46px;top:472.00px;font-size:4.2px;color:#4fa3e0;-webkit-text-stroke:0.15px #4fa3e0;transform:scaleX(1.0190);transform-origin:center 0;">Germany</div>
<div class="t" style="left:473.60px;top:471.00px;font-size:5.9px;color:rgba(255,255,255,0.85);transform:scaleX(0.9805);transform-origin:left 0;-webkit-text-stroke:0.1px rgba(255,255,255,0.8);">Sep 15 - Oct 12, 2023</div>
<div class="b" style="left:566.3px;top:467.85px;width:11.6px;height:11.2px;background:rgba(38,191,148,0.1);border-radius:1.5px;"></div>
<svg class="b" style="left:569.1px;top:470.85px;" width="6" height="6" viewBox="0 0 6 6"><path d="M3,0.6 V3.6 M1.8,2.5 L3,3.7 L4.2,2.5 M0.8,3.6 V5 H5.2 V3.6" fill="none" stroke="#26bf94" stroke-width="0.6"/></svg>
<div class="b" style="left:581.4px;top:467.85px;width:11.6px;height:11.2px;background:rgba(224,91,91,0.1);border-radius:1.5px;"></div>
<svg class="b" style="left:584.2px;top:470.85px;" width="6" height="6" viewBox="0 0 6 6"><path d="M1,5 L1.3,3.6 L3.9,1 L5,2.1 L2.4,4.7 Z M1,5.3 H5" fill="none" stroke="#e05b5b" stroke-width="0.6"/></svg>
<div class="b" style="left:125px;top:492.6px;width:6px;height:6px;background:#e05b5b;border-radius:1px;"></div>
<svg class="b" style="left:125px;top:492.6px;" width="6" height="6" viewBox="0 0 6 6"><path d="M1.5,3.1 L2.6,4.1 L4.6,1.9" fill="none" stroke="#fff" stroke-width="0.7"/></svg>
<svg class="b" style="left:148.8px;top:489.40000000000003px;border-radius:50%;" width="12.4" height="12.4" viewBox="0 0 12.4 12.4"><defs><clipPath id="avds1"><circle cx="6.2" cy="6.2" r="6.2"/></clipPath></defs><circle cx="6.2" cy="6.2" r="6.2" fill="#e8f1f6"/><g clip-path="url(#avds1)"><g transform="scale(0.62)"><path d="M3.2,21 C3.6,16 6.4,14.4 10,14.4 C13.6,14.4 16.4,16 16.8,21 Z" fill="#e8eef0"/><path d="M8.9,14.4 L10,18.5 L11.1,14.4 Z" fill="#30b080"/><rect x="8.8" y="11.8" width="2.4" height="2.8" fill="#efc2a6"/><ellipse cx="10" cy="9.4" rx="3.5" ry="4.1" fill="#efc2a6"/><path d="M6.3,9 C5.9,4.8 7.6,3.9 10,3.9 C12.5,3.9 14.2,5 13.8,9 C13.2,7 11.8,6.4 10,6.5 C8.2,6.4 6.9,7.2 6.3,9 Z" fill="#1f2a30"/></g></g></svg>
<div class="t" style="left:164.20px;top:493.00px;font-size:6.0px;color:#ece2d8;-webkit-text-stroke:0.15px #ece2d8;">Andrew Garfield</div>
<div class="t" style="left:241.20px;top:493.00px;font-size:6.2px;color:rgba(255,255,255,0.88);transform:scaleX(0.9581);transform-origin:left 0;-webkit-text-stroke:0.06px rgba(255,255,255,0.8);">Development</div>
<div class="t" style="left:312.00px;top:493.00px;font-size:6.2px;color:rgba(255,255,255,0.88);transform:scaleX(0.9572);transform-origin:left 0;-webkit-text-stroke:0.06px rgba(255,255,255,0.8);">andrewgarfield@gmail.com</div>
<div class="b" style="left:425.3px;top:492.40px;width:20.6px;height:6.5px;border-radius:1.2px;background:#e05b5b;opacity:0.12;"></div>
<div class="t" style="left:428.24px;top:494.00px;font-size:4.2px;color:#e05b5b;-webkit-text-stroke:0.15px #e05b5b;transform:scaleX(0.9923);transform-origin:center 0;">Canada</div>
<div class="t" style="left:473.60px;top:494.00px;font-size:5.9px;color:rgba(255,255,255,0.85);transform:scaleX(0.9805);transform-origin:left 0;-webkit-text-stroke:0.1px rgba(255,255,255,0.8);">Apr 10 - Dec 12, 2023</div>
<div class="b" style="left:566.3px;top:490.0px;width:11.6px;height:11.2px;background:rgba(38,191,148,0.1);border-radius:1.5px;"></div>
<svg class="b" style="left:569.1px;top:493.0px;" width="6" height="6" viewBox="0 0 6 6"><path d="M3,0.6 V3.6 M1.8,2.5 L3,3.7 L4.2,2.5 M0.8,3.6 V5 H5.2 V3.6" fill="none" stroke="#26bf94" stroke-width="0.6"/></svg>
<div class="b" style="left:581.4px;top:490.0px;width:11.6px;height:11.2px;background:rgba(224,91,91,0.1);border-radius:1.5px;"></div>
<svg class="b" style="left:584.2px;top:493.0px;" width="6" height="6" viewBox="0 0 6 6"><path d="M1,5 L1.3,3.6 L3.9,1 L5,2.1 L2.4,4.7 Z M1,5.3 H5" fill="none" stroke="#e05b5b" stroke-width="0.6"/></svg>
<div class="b" style="left:125px;top:514.6500000000001px;width:6px;height:6px;background:transparent;border-radius:1px;box-sizing:border-box;border:0.6px solid rgba(255,255,255,0.08);"></div>
<svg class="b" style="left:148.8px;top:511.4500000000001px;border-radius:50%;" width="12.4" height="12.4" viewBox="0 0 12.4 12.4"><defs><clipPath id="avds2"><circle cx="6.2" cy="6.2" r="6.2"/></clipPath></defs><circle cx="6.2" cy="6.2" r="6.2" fill="#f6f1ea"/><g clip-path="url(#avds2)"><g transform="scale(0.62)"><path d="M3.2,21 C3.6,16 6.4,14.4 10,14.4 C13.6,14.4 16.4,16 16.8,21 Z" fill="#f0e8dc"/><path d="M8.9,14.4 L10,18.5 L11.1,14.4 Z" fill="#d04a3a"/><rect x="8.8" y="11.8" width="2.4" height="2.8" fill="#eab89a"/><ellipse cx="10" cy="9.4" rx="3.5" ry="4.1" fill="#eab89a"/><path d="M6.3,9 C5.9,4.8 7.6,3.9 10,3.9 C12.5,3.9 14.2,5 13.8,9 C13.2,7 11.8,6.4 10,6.5 C8.2,6.4 6.9,7.2 6.3,9 Z" fill="#6a3422"/></g></g></svg>
<div class="t" style="left:164.20px;top:515.00px;font-size:6.0px;color:#ece2d8;-webkit-text-stroke:0.15px #ece2d8;transform:scaleX(0.9336);transform-origin:left 0;">Simon Cowel</div>
<div class="t" style="left:241.20px;top:515.00px;font-size:6.2px;color:rgba(255,255,255,0.88);transform:scaleX(0.9916);transform-origin:left 0;-webkit-text-stroke:0.06px rgba(255,255,255,0.8);">Service</div>
<div class="t" style="left:312.00px;top:515.00px;font-size:6.2px;color:rgba(255,255,255,0.88);transform:scaleX(0.9446);transform-origin:left 0;-webkit-text-stroke:0.06px rgba(255,255,255,0.8);">simoncowel234@gmail.com</div>
<div class="b" style="left:425.3px;top:514.45px;width:19.6px;height:6.5px;border-radius:1.2px;background:#e8604a;opacity:0.12;"></div>
<div class="t" style="left:428.33px;top:516.00px;font-size:4.2px;color:#e8604a;-webkit-text-stroke:0.15px #e8604a;">Europe</div>
<div class="t" style="left:473.60px;top:516.00px;font-size:5.9px;color:rgba(255,255,255,0.85);transform:scaleX(0.9805);transform-origin:left 0;-webkit-text-stroke:0.1px rgba(255,255,255,0.8);">Sep 15 - Oct 12, 2023</div>
<div class="b" style="left:566.3px;top:512.0500000000001px;width:11.6px;height:11.2px;background:rgba(38,191,148,0.1);border-radius:1.5px;"></div>
<svg class="b" style="left:569.1px;top:515.0500000000001px;" width="6" height="6" viewBox="0 0 6 6"><path d="M3,0.6 V3.6 M1.8,2.5 L3,3.7 L4.2,2.5 M0.8,3.6 V5 H5.2 V3.6" fill="none" stroke="#26bf94" stroke-width="0.6"/></svg>
<div class="b" style="left:581.4px;top:512.0500000000001px;width:11.6px;height:11.2px;background:rgba(224,91,91,0.1);border-radius:1.5px;"></div>
<svg class="b" style="left:584.2px;top:515.0500000000001px;" width="6" height="6" viewBox="0 0 6 6"><path d="M1,5 L1.3,3.6 L3.9,1 L5,2.1 L2.4,4.7 Z M1,5.3 H5" fill="none" stroke="#e05b5b" stroke-width="0.6"/></svg>
<div class="b" style="left:125px;top:536.85px;width:6px;height:6px;background:#e05b5b;border-radius:1px;"></div>
<svg class="b" style="left:125px;top:536.85px;" width="6" height="6" viewBox="0 0 6 6"><path d="M1.5,3.1 L2.6,4.1 L4.6,1.9" fill="none" stroke="#fff" stroke-width="0.7"/></svg>
<svg class="b" style="left:148.8px;top:533.65px;border-radius:50%;" width="12.4" height="12.4" viewBox="0 0 12.4 12.4"><defs><clipPath id="avds3"><circle cx="6.2" cy="6.2" r="6.2"/></clipPath></defs><circle cx="6.2" cy="6.2" r="6.2" fill="#fbeed2"/><g clip-path="url(#avds3)"><g transform="scale(0.62)"><path d="M5.2,16 C4.6,9 5.5,3.6 10,3.6 C14.5,3.6 15.4,9 14.8,16 Z" fill="#caa040"/><path d="M3.2,21 C3.6,16 6.4,14.4 10,14.4 C13.6,14.4 16.4,16 16.8,21 Z" fill="#2a2f3a"/><path d="M8.9,14.4 L10,18.5 L11.1,14.4 Z" fill="#caa040"/><rect x="8.8" y="11.8" width="2.4" height="2.8" fill="#e0a47e"/><ellipse cx="10" cy="9.4" rx="3.5" ry="4.1" fill="#e0a47e"/><path d="M6.3,9 C5.9,4.8 7.6,3.9 10,3.9 C12.5,3.9 14.2,5 13.8,9 C13.2,7 11.8,6.4 10,6.5 C8.2,6.4 6.9,7.2 6.3,9 Z" fill="#caa040"/></g></g></svg>
<div class="t" style="left:164.20px;top:537.00px;font-size:6.0px;color:#ece2d8;-webkit-text-stroke:0.15px #ece2d8;transform:scaleX(0.9527);transform-origin:left 0;">Mirinda Hers</div>
<div class="t" style="left:241.20px;top:537.00px;font-size:6.2px;color:rgba(255,255,255,0.88);transform:scaleX(0.9698);transform-origin:left 0;-webkit-text-stroke:0.06px rgba(255,255,255,0.8);">Marketing</div>
<div class="t" style="left:312.00px;top:537.00px;font-size:6.2px;color:rgba(255,255,255,0.88);transform:scaleX(0.9412);transform-origin:left 0;-webkit-text-stroke:0.06px rgba(255,255,255,0.8);">mirindahers@gmail.com</div>
<div class="b" style="left:425.3px;top:536.65px;width:14.0px;height:6.5px;border-radius:1.2px;background:#f5b849;opacity:0.12;"></div>
<div class="t" style="left:427.98px;top:538.00px;font-size:4.2px;color:#f5b849;-webkit-text-stroke:0.15px #f5b849;transform:scaleX(0.9263);transform-origin:center 0;">USA</div>
<div class="t" style="left:473.60px;top:538.00px;font-size:5.9px;color:rgba(255,255,255,0.85);transform:scaleX(0.9805);transform-origin:left 0;-webkit-text-stroke:0.1px rgba(255,255,255,0.8);">Apr 14 - Dec 14, 2023</div>
<div class="b" style="left:566.3px;top:534.25px;width:11.6px;height:11.2px;background:rgba(38,191,148,0.1);border-radius:1.5px;"></div>
<svg class="b" style="left:569.1px;top:537.25px;" width="6" height="6" viewBox="0 0 6 6"><path d="M3,0.6 V3.6 M1.8,2.5 L3,3.7 L4.2,2.5 M0.8,3.6 V5 H5.2 V3.6" fill="none" stroke="#26bf94" stroke-width="0.6"/></svg>
<div class="b" style="left:581.4px;top:534.25px;width:11.6px;height:11.2px;background:rgba(224,91,91,0.1);border-radius:1.5px;"></div>
<svg class="b" style="left:584.2px;top:537.25px;" width="6" height="6" viewBox="0 0 6 6"><path d="M1,5 L1.3,3.6 L3.9,1 L5,2.1 L2.4,4.7 Z M1,5.3 H5" fill="none" stroke="#e05b5b" stroke-width="0.6"/></svg>
<div class="b" style="left:125px;top:559.15px;width:6px;height:6px;background:#e05b5b;border-radius:1px;"></div>
<svg class="b" style="left:125px;top:559.15px;" width="6" height="6" viewBox="0 0 6 6"><path d="M1.5,3.1 L2.6,4.1 L4.6,1.9" fill="none" stroke="#fff" stroke-width="0.7"/></svg>
<svg class="b" style="left:148.8px;top:555.9499999999999px;border-radius:50%;" width="12.4" height="12.4" viewBox="0 0 12.4 12.4"><defs><clipPath id="avds4"><circle cx="6.2" cy="6.2" r="6.2"/></clipPath></defs><circle cx="6.2" cy="6.2" r="6.2" fill="#e3ebf5"/><g clip-path="url(#avds4)"><g transform="scale(0.62)"><path d="M3.2,21 C3.6,16 6.4,14.4 10,14.4 C13.6,14.4 16.4,16 16.8,21 Z" fill="#c8ccd2"/><path d="M8.9,14.4 L10,18.5 L11.1,14.4 Z" fill="#5a6070"/><rect x="8.8" y="11.8" width="2.4" height="2.8" fill="#e7b596"/><ellipse cx="10" cy="9.4" rx="3.5" ry="4.1" fill="#e7b596"/><path d="M6.3,9 C5.9,4.8 7.6,3.9 10,3.9 C12.5,3.9 14.2,5 13.8,9 C13.2,7 11.8,6.4 10,6.5 C8.2,6.4 6.9,7.2 6.3,9 Z" fill="#222833"/></g></g></svg>
<div class="t" style="left:164.20px;top:559.00px;font-size:6.0px;color:#ece2d8;-webkit-text-stroke:0.15px #ece2d8;transform:scaleX(0.9268);transform-origin:left 0;">Jacob Smith</div>
<div class="t" style="left:241.20px;top:559.00px;font-size:6.2px;color:rgba(255,255,255,0.88);transform:scaleX(0.9437);transform-origin:left 0;-webkit-text-stroke:0.06px rgba(255,255,255,0.8);">Social Plataform</div>
<div class="t" style="left:312.00px;top:559.00px;font-size:6.2px;color:rgba(255,255,255,0.88);transform:scaleX(0.9473);transform-origin:left 0;-webkit-text-stroke:0.06px rgba(255,255,255,0.8);">jacobsmith@gmail.com</div>
<div class="b" style="left:425.3px;top:558.95px;width:25.6px;height:6.5px;border-radius:1.2px;background:#26bf94;opacity:0.12;"></div>
<div class="t" style="left:428.53px;top:561.00px;font-size:4.2px;color:#26bf94;-webkit-text-stroke:0.15px #26bf94;transform:scaleX(1.0235);transform-origin:center 0;">Singapore</div>
<div class="t" style="left:473.60px;top:560.00px;font-size:5.9px;color:rgba(255,255,255,0.85);transform:scaleX(0.9641);transform-origin:left 0;-webkit-text-stroke:0.1px rgba(255,255,255,0.8);">Feb 25 - Nov 25, 2023</div>
<div class="b" style="left:566.3px;top:556.55px;width:11.6px;height:11.2px;background:rgba(38,191,148,0.1);border-radius:1.5px;"></div>
<svg class="b" style="left:569.1px;top:559.55px;" width="6" height="6" viewBox="0 0 6 6"><path d="M3,0.6 V3.6 M1.8,2.5 L3,3.7 L4.2,2.5 M0.8,3.6 V5 H5.2 V3.6" fill="none" stroke="#26bf94" stroke-width="0.6"/></svg>
<div class="b" style="left:581.4px;top:556.55px;width:11.6px;height:11.2px;background:rgba(224,91,91,0.1);border-radius:1.5px;"></div>
<svg class="b" style="left:584.2px;top:559.55px;" width="6" height="6" viewBox="0 0 6 6"><path d="M1,5 L1.3,3.6 L3.9,1 L5,2.1 L2.4,4.7 Z M1,5.3 H5" fill="none" stroke="#e05b5b" stroke-width="0.6"/></svg>
<div class="b" style="left:106px;top:582.0px;width:514px;height:0.7px;background:rgba(255,255,255,0.075);"></div>
<div class="t" style="left:114.60px;top:593.00px;font-size:6.3px;color:rgba(255,255,255,0.8);transform:scaleX(0.8822);transform-origin:left 0;">Showing 5 Entries</div>
<svg class="b" style="left:165.0px;top:594.6px;" width="6" height="4" viewBox="0 0 6 4"><path d="M0.3,2 H5 M3.4,0.5 L5.1,2 L3.4,3.5" fill="none" stroke="rgba(255,255,255,0.8)" stroke-width="0.7"/></svg>
<div class="t" style="left:548.80px;top:593.00px;font-size:5.8px;color:rgba(255,255,255,0.62);transform:scaleX(0.9726);transform-origin:left 0;">Prev</div>
<div class="b" style="left:565.2px;top:588.7px;width:12.6px;height:12.6px;background:#e05b5b;border-radius:2.2px;"></div>
<div class="t" style="left:569.94px;top:594.00px;font-size:5.6px;color:#fff;-webkit-text-stroke:0.190px #fff;">1</div>
<div class="t" style="left:582.50px;top:593.00px;font-size:5.4px;color:rgba(255,255,255,0.75);">2</div>
<div class="t" style="left:595.00px;top:593.00px;font-size:5.8px;color:#e05b5b;transform:scaleX(1.0764);transform-origin:left 0;">next</div>
<div class="t" style="left:357.90px;top:628.00px;font-size:5.9px;color:rgba(255,255,255,0.6);transform:scaleX(1.0062);transform-origin:left 0;">Copyright © 2023 <b style="color:#fff">Ynex</b>. Designed with <span style="color:#e8605e">&#x2764;</span> by <span style="color:#e8605e;text-decoration:underline">Spruko</span> All rights reserved</div>
</body></html>
